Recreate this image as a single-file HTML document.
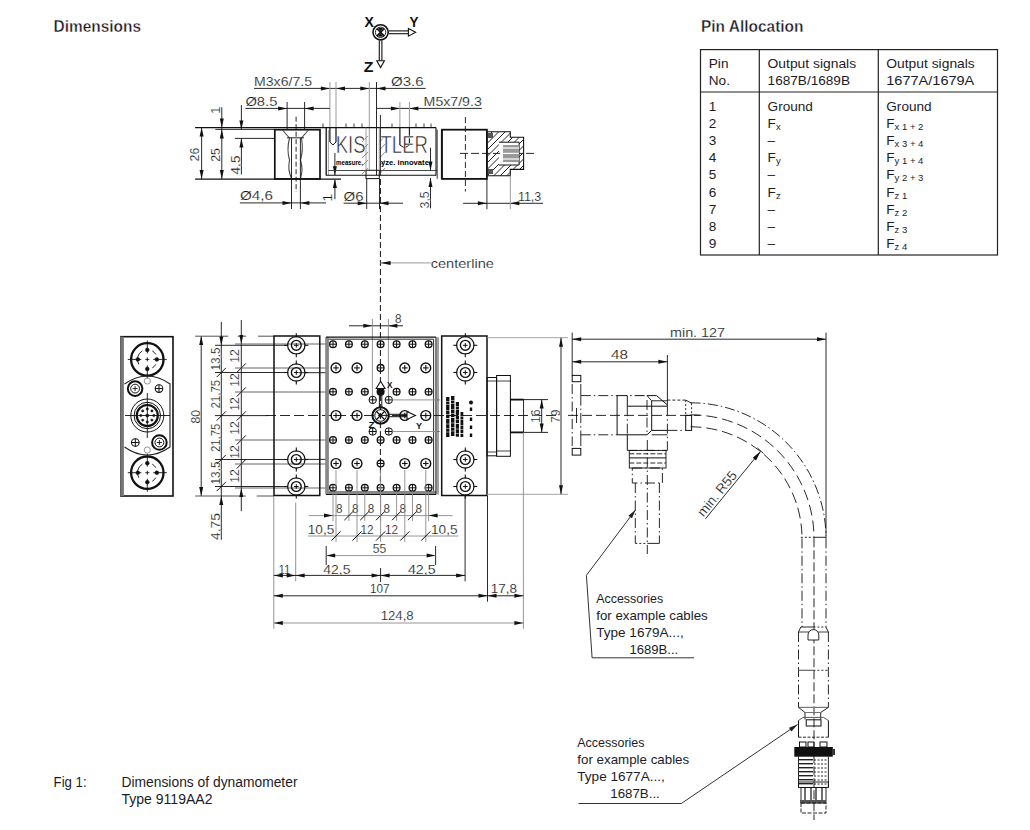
<!DOCTYPE html>
<html><head><meta charset="utf-8"><style>
html,body{margin:0;padding:0;background:#fff;width:1030px;height:830px;overflow:hidden}
svg{display:block}
</style></head><body>
<svg width="1030" height="830" viewBox="0 0 1030 830">
<rect width="1030" height="830" fill="#fff"/>
<text x="53.50" y="31.70" font-family='"Liberation Sans", sans-serif' font-size="16.30" fill="#1c1c28" font-weight="bold" text-anchor="start" textLength="87.50" lengthAdjust="spacingAndGlyphs" stroke="#fff" stroke-width="0.35">Dimensions</text>
<text x="701.00" y="31.70" font-family='"Liberation Sans", sans-serif' font-size="16.30" fill="#1c1c28" font-weight="bold" text-anchor="start" textLength="102.50" lengthAdjust="spacingAndGlyphs" stroke="#fff" stroke-width="0.35">Pin Allocation</text>
<rect x="700.50" y="49.60" width="297.00" height="205.40" fill="none" stroke="#222" stroke-width="1.2"/>
<line x1="759.30" y1="49.60" x2="759.30" y2="255.00" stroke="#222" stroke-width="1.2"/>
<line x1="878.30" y1="49.60" x2="878.30" y2="255.00" stroke="#222" stroke-width="1.2"/>
<line x1="700.50" y1="92.00" x2="997.50" y2="92.00" stroke="#222" stroke-width="1.2"/>
<text x="708.80" y="67.80" font-family='"Liberation Sans", sans-serif' font-size="13.60" fill="#1c1c28" font-weight="normal" text-anchor="start">Pin</text>
<text x="708.80" y="84.90" font-family='"Liberation Sans", sans-serif' font-size="13.60" fill="#1c1c28" font-weight="normal" text-anchor="start">No.</text>
<text x="767.60" y="67.80" font-family='"Liberation Sans", sans-serif' font-size="13.60" fill="#1c1c28" font-weight="normal" text-anchor="start" textLength="88.50" lengthAdjust="spacingAndGlyphs">Output signals</text>
<text x="767.60" y="84.90" font-family='"Liberation Sans", sans-serif' font-size="13.60" fill="#1c1c28" font-weight="normal" text-anchor="start" textLength="82.40" lengthAdjust="spacingAndGlyphs">1687B/1689B</text>
<text x="886.30" y="67.80" font-family='"Liberation Sans", sans-serif' font-size="13.60" fill="#1c1c28" font-weight="normal" text-anchor="start" textLength="88.50" lengthAdjust="spacingAndGlyphs">Output signals</text>
<text x="886.30" y="84.90" font-family='"Liberation Sans", sans-serif' font-size="13.60" fill="#1c1c28" font-weight="normal" text-anchor="start" textLength="88.00" lengthAdjust="spacingAndGlyphs">1677A/1679A</text>
<text x="708.80" y="110.70" font-family='"Liberation Sans", sans-serif' font-size="13.60" fill="#1c1c28" font-weight="normal" text-anchor="start">1</text>
<text x="767.60" y="110.70" font-family='"Liberation Sans", sans-serif' font-size="13.60" fill="#1c1c28" font-weight="normal" text-anchor="start">Ground</text>
<text x="886.30" y="110.70" font-family='"Liberation Sans", sans-serif' font-size="13.60" fill="#1c1c28" font-weight="normal" text-anchor="start">Ground</text>
<text x="708.80" y="127.87" font-family='"Liberation Sans", sans-serif' font-size="13.60" fill="#1c1c28" font-weight="normal" text-anchor="start">2</text>
<text x="767.60" y="127.87" font-family='"Liberation Sans", sans-serif' font-size="13.60" fill="#1c1c28" font-weight="normal" text-anchor="start">F<tspan font-size="9.5" dy="2">x</tspan></text>
<text x="886.30" y="127.87" font-family='"Liberation Sans", sans-serif' font-size="13.60" fill="#1c1c28" font-weight="normal" text-anchor="start">F<tspan font-size="9.5" dy="2">x 1 + 2</tspan></text>
<text x="708.80" y="145.04" font-family='"Liberation Sans", sans-serif' font-size="13.60" fill="#1c1c28" font-weight="normal" text-anchor="start">3</text>
<text x="767.60" y="145.04" font-family='"Liberation Sans", sans-serif' font-size="13.60" fill="#1c1c28" font-weight="normal" text-anchor="start">–</text>
<text x="886.30" y="145.04" font-family='"Liberation Sans", sans-serif' font-size="13.60" fill="#1c1c28" font-weight="normal" text-anchor="start">F<tspan font-size="9.5" dy="2">x 3 + 4</tspan></text>
<text x="708.80" y="162.21" font-family='"Liberation Sans", sans-serif' font-size="13.60" fill="#1c1c28" font-weight="normal" text-anchor="start">4</text>
<text x="767.60" y="162.21" font-family='"Liberation Sans", sans-serif' font-size="13.60" fill="#1c1c28" font-weight="normal" text-anchor="start">F<tspan font-size="9.5" dy="2">y</tspan></text>
<text x="886.30" y="162.21" font-family='"Liberation Sans", sans-serif' font-size="13.60" fill="#1c1c28" font-weight="normal" text-anchor="start">F<tspan font-size="9.5" dy="2">y 1 + 4</tspan></text>
<text x="708.80" y="179.38" font-family='"Liberation Sans", sans-serif' font-size="13.60" fill="#1c1c28" font-weight="normal" text-anchor="start">5</text>
<text x="767.60" y="179.38" font-family='"Liberation Sans", sans-serif' font-size="13.60" fill="#1c1c28" font-weight="normal" text-anchor="start">–</text>
<text x="886.30" y="179.38" font-family='"Liberation Sans", sans-serif' font-size="13.60" fill="#1c1c28" font-weight="normal" text-anchor="start">F<tspan font-size="9.5" dy="2">y 2 + 3</tspan></text>
<text x="708.80" y="196.55" font-family='"Liberation Sans", sans-serif' font-size="13.60" fill="#1c1c28" font-weight="normal" text-anchor="start">6</text>
<text x="767.60" y="196.55" font-family='"Liberation Sans", sans-serif' font-size="13.60" fill="#1c1c28" font-weight="normal" text-anchor="start">F<tspan font-size="9.5" dy="2">z</tspan></text>
<text x="886.30" y="196.55" font-family='"Liberation Sans", sans-serif' font-size="13.60" fill="#1c1c28" font-weight="normal" text-anchor="start">F<tspan font-size="9.5" dy="2">z 1</tspan></text>
<text x="708.80" y="213.72" font-family='"Liberation Sans", sans-serif' font-size="13.60" fill="#1c1c28" font-weight="normal" text-anchor="start">7</text>
<text x="767.60" y="213.72" font-family='"Liberation Sans", sans-serif' font-size="13.60" fill="#1c1c28" font-weight="normal" text-anchor="start">–</text>
<text x="886.30" y="213.72" font-family='"Liberation Sans", sans-serif' font-size="13.60" fill="#1c1c28" font-weight="normal" text-anchor="start">F<tspan font-size="9.5" dy="2">z 2</tspan></text>
<text x="708.80" y="230.89" font-family='"Liberation Sans", sans-serif' font-size="13.60" fill="#1c1c28" font-weight="normal" text-anchor="start">8</text>
<text x="767.60" y="230.89" font-family='"Liberation Sans", sans-serif' font-size="13.60" fill="#1c1c28" font-weight="normal" text-anchor="start">–</text>
<text x="886.30" y="230.89" font-family='"Liberation Sans", sans-serif' font-size="13.60" fill="#1c1c28" font-weight="normal" text-anchor="start">F<tspan font-size="9.5" dy="2">z 3</tspan></text>
<text x="708.80" y="248.06" font-family='"Liberation Sans", sans-serif' font-size="13.60" fill="#1c1c28" font-weight="normal" text-anchor="start">9</text>
<text x="767.60" y="248.06" font-family='"Liberation Sans", sans-serif' font-size="13.60" fill="#1c1c28" font-weight="normal" text-anchor="start">–</text>
<text x="886.30" y="248.06" font-family='"Liberation Sans", sans-serif' font-size="13.60" fill="#1c1c28" font-weight="normal" text-anchor="start">F<tspan font-size="9.5" dy="2">z 4</tspan></text>
<text x="53.60" y="787.20" font-family='"Liberation Sans", sans-serif' font-size="13.80" fill="#1c1c28" font-weight="normal" text-anchor="start" textLength="33.00" lengthAdjust="spacingAndGlyphs">Fig 1:</text>
<text x="121.50" y="787.20" font-family='"Liberation Sans", sans-serif' font-size="13.80" fill="#1c1c28" font-weight="normal" text-anchor="start" textLength="176.00" lengthAdjust="spacingAndGlyphs">Dimensions of dynamometer</text>
<text x="121.50" y="804.00" font-family='"Liberation Sans", sans-serif' font-size="13.80" fill="#1c1c28" font-weight="normal" text-anchor="start" textLength="91.00" lengthAdjust="spacingAndGlyphs">Type 9119AA2</text>
<text x="596.20" y="602.50" font-family='"Liberation Sans", sans-serif' font-size="12.60" fill="#1c1c28" font-weight="normal" text-anchor="start" textLength="67.00" lengthAdjust="spacingAndGlyphs">Accessories</text>
<text x="596.20" y="619.50" font-family='"Liberation Sans", sans-serif' font-size="12.60" fill="#1c1c28" font-weight="normal" text-anchor="start" textLength="111.50" lengthAdjust="spacingAndGlyphs">for example cables</text>
<text x="596.20" y="636.50" font-family='"Liberation Sans", sans-serif' font-size="12.60" fill="#1c1c28" font-weight="normal" text-anchor="start" textLength="87.50" lengthAdjust="spacingAndGlyphs">Type 1679A...,</text>
<text x="629.40" y="653.50" font-family='"Liberation Sans", sans-serif' font-size="12.60" fill="#1c1c28" font-weight="normal" text-anchor="start" textLength="48.80" lengthAdjust="spacingAndGlyphs">1689B...</text>
<polyline points="694.00,657.80 592.10,657.80 586.40,575.40 635.60,509.80" fill="none" stroke="#333" stroke-width="1"/>
<polygon points="635.60,509.80 631.96,518.32 628.44,515.68" fill="#222"/>
<text x="577.30" y="746.50" font-family='"Liberation Sans", sans-serif' font-size="12.60" fill="#1c1c28" font-weight="normal" text-anchor="start" textLength="67.20" lengthAdjust="spacingAndGlyphs">Accessories</text>
<text x="577.30" y="763.70" font-family='"Liberation Sans", sans-serif' font-size="12.60" fill="#1c1c28" font-weight="normal" text-anchor="start" textLength="111.90" lengthAdjust="spacingAndGlyphs">for example cables</text>
<text x="577.30" y="780.90" font-family='"Liberation Sans", sans-serif' font-size="12.60" fill="#1c1c28" font-weight="normal" text-anchor="start" textLength="87.50" lengthAdjust="spacingAndGlyphs">Type 1677A...,</text>
<text x="610.30" y="797.70" font-family='"Liberation Sans", sans-serif' font-size="12.60" fill="#1c1c28" font-weight="normal" text-anchor="start" textLength="49.50" lengthAdjust="spacingAndGlyphs">1687B...</text>
<polyline points="578.50,803.50 681.30,803.50 797.60,724.50" fill="none" stroke="#333" stroke-width="1"/>
<polygon points="797.60,724.50 791.39,731.38 788.92,727.74" fill="#222"/>
<circle cx="380.60" cy="32.30" r="7.60" fill="none" stroke="#111" stroke-width="1.6"/>
<circle cx="380.60" cy="32.30" r="5.20" fill="none" stroke="#111" stroke-width="0.9"/>
<line x1="376.80" y1="28.50" x2="384.40" y2="36.10" stroke="#111" stroke-width="1.6"/>
<line x1="376.80" y1="36.10" x2="384.40" y2="28.50" stroke="#111" stroke-width="1.6"/>
<polygon points="378.10,28.10 383.10,28.10 380.60,31.30" fill="#111" stroke="#111" stroke-width="0.3"/>
<polygon points="378.10,36.50 383.10,36.50 380.60,33.30" fill="#111" stroke="#111" stroke-width="0.3"/>
<polyline points="389.00,30.90 408.40,30.90" fill="none" stroke="#111" stroke-width="1.1"/>
<polyline points="389.00,33.70 408.40,33.70" fill="none" stroke="#111" stroke-width="1.1"/>
<polygon points="408.40,28.40 415.70,32.30 408.40,36.20" fill="#fff" stroke="#111" stroke-width="1.1"/>
<line x1="379.30" y1="40.20" x2="379.30" y2="60.70" stroke="#111" stroke-width="1.1"/>
<line x1="381.90" y1="40.20" x2="381.90" y2="60.70" stroke="#111" stroke-width="1.1"/>
<polygon points="376.80,60.70 384.40,60.70 380.60,67.60" fill="#fff" stroke="#111" stroke-width="1.1"/>
<text x="364.60" y="26.80" font-family='"Liberation Sans", sans-serif' font-size="14.50" fill="#111" font-weight="bold" text-anchor="start" textLength="9.40" lengthAdjust="spacingAndGlyphs">X</text>
<text x="409.40" y="26.80" font-family='"Liberation Sans", sans-serif' font-size="14.50" fill="#111" font-weight="bold" text-anchor="start" textLength="9.00" lengthAdjust="spacingAndGlyphs">Y</text>
<text x="363.80" y="72.30" font-family='"Liberation Sans", sans-serif' font-size="14.50" fill="#111" font-weight="bold" text-anchor="start" textLength="9.70" lengthAdjust="spacingAndGlyphs">Z</text>
<line x1="254.00" y1="88.40" x2="425.70" y2="88.40" stroke="#111" stroke-width="0.9"/>
<polygon points="329.90,88.40 320.90,86.40 320.90,90.40" fill="#111"/>
<polygon points="336.00,88.40 345.00,86.40 345.00,90.40" fill="#111"/>
<polygon points="369.30,88.40 360.30,86.40 360.30,90.40" fill="#111"/>
<polygon points="376.50,88.40 385.50,86.40 385.50,90.40" fill="#111"/>
<line x1="329.90" y1="82.00" x2="329.90" y2="142.00" stroke="#9a9a9a" stroke-width="1"/>
<line x1="336.00" y1="82.00" x2="336.00" y2="142.00" stroke="#9a9a9a" stroke-width="1"/>
<line x1="369.30" y1="82.00" x2="369.30" y2="170.00" stroke="#9a9a9a" stroke-width="1"/>
<line x1="376.50" y1="82.00" x2="376.50" y2="175.00" stroke="#111" stroke-width="0.9"/>
<text x="254.00" y="86.20" font-family='"Liberation Sans", sans-serif' font-size="13.61" fill="#111" font-weight="normal" text-anchor="start" textLength="58.00" lengthAdjust="spacingAndGlyphs" stroke="#fff" stroke-width="0.2">M3x6/7.5</text>
<text x="391.00" y="86.20" font-family='"Liberation Sans", sans-serif' font-size="13.61" fill="#111" font-weight="normal" text-anchor="start" textLength="32.60" lengthAdjust="spacingAndGlyphs" stroke="#fff" stroke-width="0.2">Ø3.6</text>
<line x1="245.30" y1="108.40" x2="329.90" y2="108.40" stroke="#111" stroke-width="0.9"/>
<polygon points="287.10,108.40 278.10,106.40 278.10,110.40" fill="#111"/>
<polygon points="304.60,108.40 313.60,106.40 313.60,110.40" fill="#111"/>
<line x1="287.10" y1="102.00" x2="287.10" y2="129.00" stroke="#111" stroke-width="0.9"/>
<line x1="304.60" y1="102.00" x2="304.60" y2="129.00" stroke="#111" stroke-width="0.9"/>
<text x="245.40" y="105.90" font-family='"Liberation Sans", sans-serif' font-size="13.61" fill="#111" font-weight="normal" text-anchor="start" textLength="32.00" lengthAdjust="spacingAndGlyphs" stroke="#fff" stroke-width="0.2">Ø8.5</text>
<line x1="376.50" y1="108.40" x2="481.80" y2="108.40" stroke="#111" stroke-width="0.9"/>
<polygon points="399.90,108.40 390.90,106.40 390.90,110.40" fill="#111"/>
<polygon points="409.40,108.40 418.40,106.40 418.40,110.40" fill="#111"/>
<line x1="399.90" y1="102.00" x2="399.90" y2="145.00" stroke="#9a9a9a" stroke-width="1"/>
<line x1="409.40" y1="102.00" x2="409.40" y2="145.00" stroke="#9a9a9a" stroke-width="1"/>
<text x="423.60" y="105.90" font-family='"Liberation Sans", sans-serif' font-size="13.61" fill="#111" font-weight="normal" text-anchor="start" textLength="58.20" lengthAdjust="spacingAndGlyphs" stroke="#fff" stroke-width="0.2">M5x7/9.3</text>
<line x1="195.10" y1="127.60" x2="436.00" y2="127.60" stroke="#111" stroke-width="1.1"/>
<line x1="215.30" y1="129.40" x2="275.00" y2="129.40" stroke="#111" stroke-width="0.9"/>
<line x1="234.90" y1="138.40" x2="275.00" y2="138.40" stroke="#111" stroke-width="0.9"/>
<line x1="195.10" y1="179.10" x2="341.00" y2="179.10" stroke="#111" stroke-width="1.1"/>
<line x1="201.60" y1="127.60" x2="201.60" y2="179.10" stroke="#111" stroke-width="0.9"/>
<polygon points="201.60,127.60 199.60,136.60 203.60,136.60" fill="#111"/>
<polygon points="201.60,179.10 199.60,170.10 203.60,170.10" fill="#111"/>
<line x1="221.80" y1="107.30" x2="221.80" y2="179.10" stroke="#111" stroke-width="0.9"/>
<polygon points="221.80,127.60 219.80,118.60 223.80,118.60" fill="#111"/>
<polygon points="221.80,129.40 219.80,138.40 223.80,138.40" fill="#111"/>
<polygon points="221.80,179.10 219.80,170.10 223.80,170.10" fill="#111"/>
<line x1="241.40" y1="105.00" x2="241.40" y2="129.40" stroke="#111" stroke-width="0.9"/>
<polygon points="241.40,129.40 239.40,120.40 243.40,120.40" fill="#111"/>
<line x1="241.40" y1="138.40" x2="241.40" y2="174.50" stroke="#111" stroke-width="0.9"/>
<polygon points="241.40,138.40 239.40,147.40 243.40,147.40" fill="#111"/>
<text transform="translate(220.40,114.00) rotate(-90)" x="0" y="0" font-family='"Liberation Sans", sans-serif' font-size="13.61" fill="#111" font-weight="normal" text-anchor="start" stroke="#fff" stroke-width="0.2">1</text>
<text transform="translate(199.30,161.50) rotate(-90)" x="0" y="0" font-family='"Liberation Sans", sans-serif' font-size="13.61" fill="#111" font-weight="normal" text-anchor="start" textLength="13.80" lengthAdjust="spacingAndGlyphs" stroke="#fff" stroke-width="0.2">26</text>
<text transform="translate(219.50,161.80) rotate(-90)" x="0" y="0" font-family='"Liberation Sans", sans-serif' font-size="13.61" fill="#111" font-weight="normal" text-anchor="start" textLength="13.80" lengthAdjust="spacingAndGlyphs" stroke="#fff" stroke-width="0.2">25</text>
<text transform="translate(239.50,174.50) rotate(-90)" x="0" y="0" font-family='"Liberation Sans", sans-serif' font-size="13.61" fill="#111" font-weight="normal" text-anchor="start" textLength="19.00" lengthAdjust="spacingAndGlyphs" stroke="#fff" stroke-width="0.2">4,5</text>
<rect x="274.80" y="129.70" width="45.20" height="49.20" fill="none" stroke="#111" stroke-width="1.7"/>
<polyline points="282.40,130.00 289.50,138.00" fill="none" stroke="#444" stroke-width="1.1"/>
<polyline points="308.40,130.00 301.50,138.00" fill="none" stroke="#444" stroke-width="1.1"/>
<line x1="287.00" y1="137.80" x2="304.00" y2="137.80" stroke="#111" stroke-width="0.9"/>
<path d="M289.5,138 Q286.5,150 289.5,160 Q287.5,170 291.5,178.5" fill="none" stroke="#444" stroke-width="1.1"/>
<path d="M301.5,138 Q303.5,150 300.5,160 Q303.5,170 300.4,178.5" fill="none" stroke="#444" stroke-width="1.1"/>
<line x1="296.10" y1="116.70" x2="296.10" y2="192.00" stroke="#111" stroke-width="0.9" stroke-dasharray="5,2.5"/>
<line x1="291.50" y1="138.00" x2="291.50" y2="209.00" stroke="#111" stroke-width="0.9"/>
<line x1="300.40" y1="138.00" x2="300.40" y2="209.00" stroke="#111" stroke-width="0.9"/>
<line x1="239.90" y1="202.90" x2="326.00" y2="202.90" stroke="#111" stroke-width="0.9"/>
<polygon points="291.50,202.90 282.50,200.90 282.50,204.90" fill="#111"/>
<polygon points="300.40,202.90 309.40,200.90 309.40,204.90" fill="#111"/>
<text x="239.90" y="200.00" font-family='"Liberation Sans", sans-serif' font-size="13.61" fill="#111" font-weight="normal" text-anchor="start" textLength="33.00" lengthAdjust="spacingAndGlyphs" stroke="#fff" stroke-width="0.2">Ø4,6</text>
<line x1="334.90" y1="152.90" x2="334.90" y2="175.30" stroke="#111" stroke-width="0.9"/>
<polygon points="334.90,175.30 332.90,166.30 336.90,166.30" fill="#111"/>
<line x1="334.90" y1="180.00" x2="334.90" y2="199.20" stroke="#111" stroke-width="0.9"/>
<polygon points="334.90,179.10 332.90,188.10 336.90,188.10" fill="#111"/>
<text transform="translate(332.30,201.60) rotate(-90)" x="0" y="0" font-family='"Liberation Sans", sans-serif' font-size="13.61" fill="#111" font-weight="normal" text-anchor="start" stroke="#fff" stroke-width="0.2">1</text>
<line x1="326.20" y1="127.60" x2="326.20" y2="175.40" stroke="#111" stroke-width="1.3"/>
<line x1="328.40" y1="130.00" x2="328.40" y2="175.40" stroke="#8a8a8a" stroke-width="0.8"/>
<line x1="436.00" y1="127.60" x2="436.00" y2="175.40" stroke="#111" stroke-width="1.1"/>
<line x1="326.20" y1="175.30" x2="436.00" y2="175.30" stroke="#111" stroke-width="1.1"/>
<line x1="328.40" y1="170.50" x2="366.00" y2="170.50" stroke="#333" stroke-width="0.9"/>
<line x1="379.30" y1="170.50" x2="437.00" y2="170.50" stroke="#333" stroke-width="0.9"/>
<rect x="366.00" y="170.30" width="13.30" height="8.30" fill="none" stroke="#111" stroke-width="1"/>
<line x1="366.00" y1="127.60" x2="366.00" y2="170.30" stroke="#8a8a8a" stroke-width="0.8"/>
<line x1="379.30" y1="127.60" x2="379.30" y2="170.30" stroke="#8a8a8a" stroke-width="0.8"/>
<line x1="362.00" y1="142.00" x2="368.00" y2="136.00" stroke="#666" stroke-width="0.7"/>
<line x1="379.50" y1="142.00" x2="385.00" y2="136.00" stroke="#666" stroke-width="0.7"/>
<line x1="362.00" y1="150.00" x2="368.00" y2="144.00" stroke="#666" stroke-width="0.7"/>
<line x1="379.50" y1="150.00" x2="385.00" y2="144.00" stroke="#666" stroke-width="0.7"/>
<line x1="362.00" y1="158.00" x2="368.00" y2="152.00" stroke="#666" stroke-width="0.7"/>
<line x1="379.50" y1="158.00" x2="385.00" y2="152.00" stroke="#666" stroke-width="0.7"/>
<line x1="362.00" y1="166.00" x2="368.00" y2="160.00" stroke="#666" stroke-width="0.7"/>
<line x1="379.50" y1="166.00" x2="385.00" y2="160.00" stroke="#666" stroke-width="0.7"/>
<line x1="362.00" y1="174.00" x2="368.00" y2="168.00" stroke="#666" stroke-width="0.7"/>
<line x1="379.50" y1="174.00" x2="385.00" y2="168.00" stroke="#666" stroke-width="0.7"/>
<line x1="329.90" y1="127.60" x2="329.90" y2="142.00" stroke="#111" stroke-width="1"/>
<line x1="336.00" y1="127.60" x2="336.00" y2="142.00" stroke="#111" stroke-width="1"/>
<polyline points="329.90,142.00 332.95,145.00 336.00,142.00" fill="none" stroke="#111" stroke-width="1"/>
<line x1="399.90" y1="127.60" x2="399.90" y2="145.00" stroke="#111" stroke-width="1"/>
<line x1="409.40" y1="127.60" x2="409.40" y2="145.00" stroke="#111" stroke-width="1"/>
<polyline points="399.90,145.00 404.65,148.00 409.40,145.00" fill="none" stroke="#111" stroke-width="1"/>
<line x1="323.00" y1="123.50" x2="323.00" y2="128.00" stroke="#111" stroke-width="0.8"/>
<line x1="346.00" y1="123.50" x2="346.00" y2="128.00" stroke="#111" stroke-width="0.8"/>
<line x1="354.00" y1="123.50" x2="354.00" y2="128.00" stroke="#111" stroke-width="0.8"/>
<line x1="362.00" y1="123.50" x2="362.00" y2="128.00" stroke="#111" stroke-width="0.8"/>
<line x1="392.00" y1="123.50" x2="392.00" y2="128.00" stroke="#111" stroke-width="0.8"/>
<line x1="416.00" y1="123.50" x2="416.00" y2="128.00" stroke="#111" stroke-width="0.8"/>
<line x1="424.00" y1="123.50" x2="424.00" y2="128.00" stroke="#111" stroke-width="0.8"/>
<line x1="431.00" y1="123.50" x2="431.00" y2="128.00" stroke="#111" stroke-width="0.8"/>
<text x="335.70" y="153.20" font-family='"Liberation Sans", sans-serif' font-size="24.00" fill="#222" font-weight="normal" text-anchor="start" textLength="30.00" lengthAdjust="spacingAndGlyphs" stroke="#fff" stroke-width="0.6">KIS</text>
<text x="380.50" y="153.20" font-family='"Liberation Sans", sans-serif' font-size="24.00" fill="#222" font-weight="normal" text-anchor="start" textLength="47.50" lengthAdjust="spacingAndGlyphs" stroke="#fff" stroke-width="0.6">TLER</text>
<text x="336.00" y="164.60" font-family='"Liberation Sans", sans-serif' font-size="7.00" fill="#000" font-weight="bold" text-anchor="start" textLength="27.00" lengthAdjust="spacingAndGlyphs">measure.</text>
<text x="381.00" y="164.60" font-family='"Liberation Sans", sans-serif' font-size="7.00" fill="#000" font-weight="bold" text-anchor="start" textLength="50.00" lengthAdjust="spacingAndGlyphs">yze. innovate.</text>
<line x1="380.40" y1="115.00" x2="380.40" y2="175.00" stroke="#111" stroke-width="0.9"/>
<line x1="430.50" y1="147.70" x2="430.50" y2="170.50" stroke="#111" stroke-width="0.9"/>
<polygon points="430.50,170.50 428.50,161.50 432.50,161.50" fill="#111"/>
<line x1="430.50" y1="178.00" x2="430.50" y2="208.40" stroke="#111" stroke-width="0.9"/>
<polygon points="430.50,178.00 428.50,187.00 432.50,187.00" fill="#111"/>
<text transform="translate(428.80,208.40) rotate(-90)" x="0" y="0" font-family='"Liberation Sans", sans-serif' font-size="13.61" fill="#111" font-weight="normal" text-anchor="start" textLength="17.00" lengthAdjust="spacingAndGlyphs" stroke="#fff" stroke-width="0.2">3,5</text>
<line x1="366.70" y1="179.00" x2="366.70" y2="209.00" stroke="#111" stroke-width="0.9"/>
<line x1="379.50" y1="179.00" x2="379.50" y2="209.00" stroke="#111" stroke-width="0.9"/>
<line x1="343.60" y1="203.20" x2="403.00" y2="203.20" stroke="#111" stroke-width="0.9"/>
<polygon points="366.70,203.20 357.70,201.20 357.70,205.20" fill="#111"/>
<polygon points="379.50,203.20 388.50,201.20 388.50,205.20" fill="#111"/>
<text x="343.60" y="200.80" font-family='"Liberation Sans", sans-serif' font-size="13.61" fill="#111" font-weight="normal" text-anchor="start" textLength="20.00" lengthAdjust="spacingAndGlyphs" stroke="#fff" stroke-width="0.2">Ø6</text>
<line x1="437.20" y1="129.70" x2="437.20" y2="178.90" stroke="#111" stroke-width="0.8"/>
<line x1="441.40" y1="129.70" x2="441.40" y2="178.90" stroke="#111" stroke-width="0.8"/>
<rect x="442.00" y="129.70" width="44.90" height="49.20" fill="none" stroke="#111" stroke-width="1.8"/>
<line x1="465.40" y1="117.00" x2="465.40" y2="191.50" stroke="#111" stroke-width="0.9" stroke-dasharray="6,3"/>
<line x1="460.00" y1="153.40" x2="536.00" y2="153.40" stroke="#111" stroke-width="0.9" stroke-dasharray="8,3"/>
<polygon points="487.00,131.70 510.30,131.70 510.30,137.20 523.60,137.20 523.60,169.40 510.30,169.40 510.30,175.70 487.00,175.70" fill="none" stroke="#111" stroke-width="1.1"/>
<polyline points="498.90,142.20 519.10,142.20 519.10,165.00 498.90,165.00" fill="none" stroke="#111" stroke-width="1"/>
<clipPath id="hc"><path d="M487,131.7 H510.3 V137.2 H523.6 V169.4 H510.3 V175.7 H487 Z M498.9,142.2 V165 H519.1 V142.2 Z" clip-rule="evenodd"/></clipPath>
<g clip-path="url(#hc)"><line x1="405.0" y1="180" x2="455.0" y2="130" stroke="#222" stroke-width="1.0"/><line x1="411.5" y1="180" x2="461.5" y2="130" stroke="#222" stroke-width="1.0"/><line x1="418.0" y1="180" x2="468.0" y2="130" stroke="#222" stroke-width="1.0"/><line x1="424.5" y1="180" x2="474.5" y2="130" stroke="#222" stroke-width="1.0"/><line x1="431.0" y1="180" x2="481.0" y2="130" stroke="#222" stroke-width="1.0"/><line x1="437.5" y1="180" x2="487.5" y2="130" stroke="#222" stroke-width="1.0"/><line x1="444.0" y1="180" x2="494.0" y2="130" stroke="#222" stroke-width="1.0"/><line x1="450.5" y1="180" x2="500.5" y2="130" stroke="#222" stroke-width="1.0"/><line x1="457.0" y1="180" x2="507.0" y2="130" stroke="#222" stroke-width="1.0"/><line x1="463.5" y1="180" x2="513.5" y2="130" stroke="#222" stroke-width="1.0"/><line x1="470.0" y1="180" x2="520.0" y2="130" stroke="#222" stroke-width="1.0"/><line x1="476.5" y1="180" x2="526.5" y2="130" stroke="#222" stroke-width="1.0"/><line x1="483.0" y1="180" x2="533.0" y2="130" stroke="#222" stroke-width="1.0"/><line x1="489.5" y1="180" x2="539.5" y2="130" stroke="#222" stroke-width="1.0"/><line x1="496.0" y1="180" x2="546.0" y2="130" stroke="#222" stroke-width="1.0"/><line x1="502.5" y1="180" x2="552.5" y2="130" stroke="#222" stroke-width="1.0"/><line x1="509.0" y1="180" x2="559.0" y2="130" stroke="#222" stroke-width="1.0"/><line x1="515.5" y1="180" x2="565.5" y2="130" stroke="#222" stroke-width="1.0"/><line x1="522.0" y1="180" x2="572.0" y2="130" stroke="#222" stroke-width="1.0"/><line x1="528.5" y1="180" x2="578.5" y2="130" stroke="#222" stroke-width="1.0"/><line x1="535.0" y1="180" x2="585.0" y2="130" stroke="#222" stroke-width="1.0"/><line x1="541.5" y1="180" x2="591.5" y2="130" stroke="#222" stroke-width="1.0"/></g>
<rect x="503.00" y="145.00" width="16.00" height="17.00" fill="#999"/>
<line x1="500.00" y1="148.00" x2="519.00" y2="148.00" stroke="#fff" stroke-width="1.2"/>
<line x1="500.00" y1="153.40" x2="519.00" y2="153.40" stroke="#fff" stroke-width="1.2"/>
<line x1="500.00" y1="159.00" x2="519.00" y2="159.00" stroke="#fff" stroke-width="1.2"/>
<rect x="488.00" y="133.00" width="5.00" height="5.00" fill="#555"/>
<rect x="488.00" y="169.00" width="5.00" height="5.00" fill="#555"/>
<line x1="463.10" y1="203.30" x2="543.10" y2="203.30" stroke="#111" stroke-width="0.9"/>
<polygon points="486.90,203.30 477.90,201.30 477.90,205.30" fill="#111"/>
<polygon points="510.30,203.30 519.30,201.30 519.30,205.30" fill="#111"/>
<line x1="486.90" y1="179.00" x2="486.90" y2="209.20" stroke="#111" stroke-width="0.9"/>
<line x1="510.30" y1="175.70" x2="510.30" y2="209.20" stroke="#9a9a9a" stroke-width="1"/>
<text x="517.90" y="200.80" font-family='"Liberation Sans", sans-serif' font-size="13.61" fill="#111" font-weight="normal" text-anchor="start" textLength="23.40" lengthAdjust="spacingAndGlyphs" stroke="#fff" stroke-width="0.2">11,3</text>
<line x1="380.40" y1="179.00" x2="380.40" y2="497.00" stroke="#111" stroke-width="1" stroke-dasharray="6,3"/>
<line x1="380.40" y1="262.90" x2="430.70" y2="262.90" stroke="#9a9a9a" stroke-width="1"/>
<polygon points="380.60,262.90 390.60,260.90 390.60,264.90" fill="#111"/>
<text x="430.70" y="268.00" font-family='"Liberation Sans", sans-serif' font-size="13.61" fill="#111" font-weight="normal" text-anchor="start" textLength="63.20" lengthAdjust="spacingAndGlyphs" stroke="#fff" stroke-width="0.2">centerline</text>
<line x1="349.00" y1="325.80" x2="403.00" y2="325.80" stroke="#111" stroke-width="0.9"/>
<polygon points="372.40,325.80 363.40,323.80 363.40,327.80" fill="#111"/>
<polygon points="388.40,325.80 397.40,323.80 397.40,327.80" fill="#111"/>
<line x1="372.40" y1="319.00" x2="372.40" y2="400.00" stroke="#8a8a8a" stroke-width="0.9"/>
<line x1="388.40" y1="319.00" x2="388.40" y2="400.00" stroke="#8a8a8a" stroke-width="0.9"/>
<text x="395.00" y="323.20" font-family='"Liberation Sans", sans-serif' font-size="13.61" fill="#111" font-weight="normal" text-anchor="start" textLength="6.50" lengthAdjust="spacingAndGlyphs" stroke="#fff" stroke-width="0.2">8</text>
<rect x="121.00" y="336.70" width="52.00" height="159.30" fill="none" stroke="#111" stroke-width="1.6"/>
<rect x="120.40" y="336.70" width="3.50" height="159.30" fill="#777"/>
<circle cx="147.30" cy="359.40" r="16.20" fill="none" stroke="#111" stroke-width="2.3"/>
<path d="M138.8,364.4 A9.8,9.8 0 0 1 142.3,350.9 M152.3,350.9 A9.8,9.8 0 0 1 155.8,354.4 M155.8,364.4 A9.8,9.8 0 0 1 152.3,367.9" fill="none" stroke="#222" stroke-width="1"/>
<circle cx="147.30" cy="349.90" r="1.90" fill="#111" stroke="#111" stroke-width="0.5"/>
<circle cx="147.30" cy="368.90" r="1.90" fill="#111" stroke="#111" stroke-width="0.5"/>
<circle cx="137.80" cy="359.40" r="1.90" fill="#111" stroke="#111" stroke-width="0.5"/>
<circle cx="156.80" cy="359.40" r="1.90" fill="#111" stroke="#111" stroke-width="0.5"/>
<line x1="127.80" y1="359.40" x2="141.30" y2="359.40" stroke="#111" stroke-width="0.9"/>
<line x1="153.30" y1="359.40" x2="166.80" y2="359.40" stroke="#111" stroke-width="0.9"/>
<line x1="147.30" y1="340.40" x2="147.30" y2="353.40" stroke="#111" stroke-width="0.9"/>
<line x1="147.30" y1="365.40" x2="147.30" y2="378.40" stroke="#111" stroke-width="0.9"/>
<line x1="145.30" y1="359.40" x2="149.30" y2="359.40" stroke="#111" stroke-width="0.9"/>
<line x1="147.30" y1="357.40" x2="147.30" y2="361.40" stroke="#111" stroke-width="0.9"/>
<circle cx="147.30" cy="472.70" r="16.20" fill="none" stroke="#111" stroke-width="2.3"/>
<path d="M138.8,477.7 A9.8,9.8 0 0 1 142.3,464.2 M152.3,464.2 A9.8,9.8 0 0 1 155.8,467.7 M155.8,477.7 A9.8,9.8 0 0 1 152.3,481.2" fill="none" stroke="#222" stroke-width="1"/>
<circle cx="147.30" cy="463.20" r="1.90" fill="#111" stroke="#111" stroke-width="0.5"/>
<circle cx="147.30" cy="482.20" r="1.90" fill="#111" stroke="#111" stroke-width="0.5"/>
<circle cx="137.80" cy="472.70" r="1.90" fill="#111" stroke="#111" stroke-width="0.5"/>
<circle cx="156.80" cy="472.70" r="1.90" fill="#111" stroke="#111" stroke-width="0.5"/>
<line x1="127.80" y1="472.70" x2="141.30" y2="472.70" stroke="#111" stroke-width="0.9"/>
<line x1="153.30" y1="472.70" x2="166.80" y2="472.70" stroke="#111" stroke-width="0.9"/>
<line x1="147.30" y1="453.70" x2="147.30" y2="466.70" stroke="#111" stroke-width="0.9"/>
<line x1="147.30" y1="478.70" x2="147.30" y2="491.70" stroke="#111" stroke-width="0.9"/>
<line x1="145.30" y1="472.70" x2="149.30" y2="472.70" stroke="#111" stroke-width="0.9"/>
<line x1="147.30" y1="470.70" x2="147.30" y2="474.70" stroke="#111" stroke-width="0.9"/>
<path d="M124.5,384 Q147.3,368 170,384 L170,447 Q147.3,463 124.5,447" fill="none" stroke="#222" stroke-width="1.1"/>
<circle cx="147.30" cy="415.50" r="16.50" fill="none" stroke="#111" stroke-width="1.0"/>
<circle cx="147.30" cy="415.50" r="13.20" fill="none" stroke="#111" stroke-width="1.0"/>
<circle cx="147.30" cy="415.50" r="10.50" fill="none" stroke="#111" stroke-width="2.2"/>
<circle cx="153.80" cy="415.50" r="1.20" fill="#222" stroke="#111" stroke-width="0.4"/>
<circle cx="151.90" cy="420.10" r="1.20" fill="#222" stroke="#111" stroke-width="0.4"/>
<circle cx="147.30" cy="422.00" r="1.20" fill="#222" stroke="#111" stroke-width="0.4"/>
<circle cx="142.70" cy="420.10" r="1.20" fill="#222" stroke="#111" stroke-width="0.4"/>
<circle cx="140.80" cy="415.50" r="1.20" fill="#222" stroke="#111" stroke-width="0.4"/>
<circle cx="142.70" cy="410.90" r="1.20" fill="#222" stroke="#111" stroke-width="0.4"/>
<circle cx="147.30" cy="409.00" r="1.20" fill="#222" stroke="#111" stroke-width="0.4"/>
<circle cx="151.90" cy="410.90" r="1.20" fill="#222" stroke="#111" stroke-width="0.4"/>
<circle cx="147.30" cy="415.50" r="1.60" fill="#111" stroke="#111" stroke-width="0.5"/>
<line x1="125.00" y1="415.50" x2="170.00" y2="415.50" stroke="#111" stroke-width="0.9"/>
<line x1="147.30" y1="393.00" x2="147.30" y2="438.00" stroke="#111" stroke-width="0.9"/>
<circle cx="135.10" cy="388.60" r="7.30" fill="none" stroke="#111" stroke-width="2.0"/>
<circle cx="135.10" cy="388.60" r="4.40" fill="none" stroke="#111" stroke-width="1.0"/>
<line x1="132.60" y1="388.60" x2="137.60" y2="388.60" stroke="#111" stroke-width="0.9"/>
<line x1="135.10" y1="386.10" x2="135.10" y2="391.10" stroke="#111" stroke-width="0.9"/>
<circle cx="159.40" cy="442.50" r="7.30" fill="none" stroke="#111" stroke-width="2.0"/>
<circle cx="159.40" cy="442.50" r="4.40" fill="none" stroke="#111" stroke-width="1.0"/>
<line x1="156.90" y1="442.50" x2="161.90" y2="442.50" stroke="#111" stroke-width="0.9"/>
<line x1="159.40" y1="440.00" x2="159.40" y2="445.00" stroke="#111" stroke-width="0.9"/>
<circle cx="159.00" cy="388.60" r="3.80" fill="none" stroke="#111" stroke-width="1.1"/>
<line x1="155.20" y1="388.60" x2="162.80" y2="388.60" stroke="#111" stroke-width="1.0"/>
<line x1="159.00" y1="384.80" x2="159.00" y2="392.40" stroke="#111" stroke-width="1.0"/>
<circle cx="135.30" cy="442.50" r="3.80" fill="none" stroke="#111" stroke-width="1.1"/>
<line x1="131.50" y1="442.50" x2="139.10" y2="442.50" stroke="#111" stroke-width="1.0"/>
<line x1="135.30" y1="438.70" x2="135.30" y2="446.30" stroke="#111" stroke-width="1.0"/>
<circle cx="147.30" cy="381.00" r="3.10" fill="none" stroke="#8a8a8a" stroke-width="0.9"/>
<circle cx="147.30" cy="450.00" r="3.10" fill="none" stroke="#8a8a8a" stroke-width="0.9"/>
<line x1="201.20" y1="336.00" x2="201.20" y2="496.00" stroke="#111" stroke-width="0.9"/>
<polygon points="201.20,336.00 199.20,345.00 203.20,345.00" fill="#111"/>
<polygon points="201.20,496.00 199.20,487.00 203.20,487.00" fill="#111"/>
<text transform="translate(200.30,423.50) rotate(-90)" x="0" y="0" font-family='"Liberation Sans", sans-serif' font-size="13.61" fill="#111" font-weight="normal" text-anchor="start" textLength="13.50" lengthAdjust="spacingAndGlyphs" stroke="#fff" stroke-width="0.2">80</text>
<line x1="195.20" y1="336.20" x2="228.30" y2="336.20" stroke="#555" stroke-width="1"/>
<line x1="237.60" y1="336.20" x2="246.20" y2="336.20" stroke="#555" stroke-width="1"/>
<line x1="258.10" y1="336.20" x2="274.00" y2="336.20" stroke="#555" stroke-width="1"/>
<line x1="195.20" y1="496.00" x2="245.80" y2="496.00" stroke="#555" stroke-width="1"/>
<line x1="256.70" y1="496.00" x2="274.00" y2="496.00" stroke="#555" stroke-width="1"/>
<line x1="221.30" y1="321.90" x2="221.30" y2="539.80" stroke="#111" stroke-width="0.9"/>
<polygon points="221.30,345.50 219.30,336.50 223.30,336.50" fill="#111"/>
<polygon points="221.30,496.00 219.30,505.00 223.30,505.00" fill="#111"/>
<line x1="216.70" y1="377.10" x2="225.90" y2="367.90" stroke="#111" stroke-width="1.0"/>
<line x1="216.70" y1="420.60" x2="225.90" y2="411.40" stroke="#111" stroke-width="1.0"/>
<line x1="216.70" y1="464.10" x2="225.90" y2="454.90" stroke="#111" stroke-width="1.0"/>
<line x1="216.70" y1="491.10" x2="225.90" y2="481.90" stroke="#111" stroke-width="1.0"/>
<line x1="241.30" y1="320.00" x2="241.30" y2="511.20" stroke="#111" stroke-width="0.9"/>
<polygon points="241.30,344.00 239.30,335.00 243.30,335.00" fill="#111"/>
<polygon points="241.30,488.00 239.30,497.00 243.30,497.00" fill="#111"/>
<line x1="236.70" y1="372.60" x2="245.90" y2="363.40" stroke="#111" stroke-width="1.0"/>
<line x1="236.70" y1="396.60" x2="245.90" y2="387.40" stroke="#111" stroke-width="1.0"/>
<line x1="236.70" y1="420.60" x2="245.90" y2="411.40" stroke="#111" stroke-width="1.0"/>
<line x1="236.70" y1="444.60" x2="245.90" y2="435.40" stroke="#111" stroke-width="1.0"/>
<line x1="236.70" y1="468.60" x2="245.90" y2="459.40" stroke="#111" stroke-width="1.0"/>
<text transform="translate(219.50,370.50) rotate(-90)" x="0" y="0" font-family='"Liberation Sans", sans-serif' font-size="13.61" fill="#111" font-weight="normal" text-anchor="start" textLength="23.00" lengthAdjust="spacingAndGlyphs" stroke="#fff" stroke-width="0.2">13,5</text>
<text transform="translate(219.50,408.45) rotate(-90)" x="0" y="0" font-family='"Liberation Sans", sans-serif' font-size="13.61" fill="#111" font-weight="normal" text-anchor="start" textLength="28.50" lengthAdjust="spacingAndGlyphs" stroke="#fff" stroke-width="0.2">21,75</text>
<text transform="translate(219.50,452.05) rotate(-90)" x="0" y="0" font-family='"Liberation Sans", sans-serif' font-size="13.61" fill="#111" font-weight="normal" text-anchor="start" textLength="28.50" lengthAdjust="spacingAndGlyphs" stroke="#fff" stroke-width="0.2">21,75</text>
<text transform="translate(219.50,484.50) rotate(-90)" x="0" y="0" font-family='"Liberation Sans", sans-serif' font-size="13.61" fill="#111" font-weight="normal" text-anchor="start" textLength="23.00" lengthAdjust="spacingAndGlyphs" stroke="#fff" stroke-width="0.2">13,5</text>
<text transform="translate(219.50,540.00) rotate(-90)" x="0" y="0" font-family='"Liberation Sans", sans-serif' font-size="13.61" fill="#111" font-weight="normal" text-anchor="start" textLength="27.00" lengthAdjust="spacingAndGlyphs" stroke="#fff" stroke-width="0.2">4,75</text>
<text transform="translate(239.30,362.75) rotate(-90)" x="0" y="0" font-family='"Liberation Sans", sans-serif' font-size="13.61" fill="#111" font-weight="normal" text-anchor="start" textLength="13.50" lengthAdjust="spacingAndGlyphs" stroke="#fff" stroke-width="0.2">12</text>
<text transform="translate(239.30,386.75) rotate(-90)" x="0" y="0" font-family='"Liberation Sans", sans-serif' font-size="13.61" fill="#111" font-weight="normal" text-anchor="start" textLength="13.50" lengthAdjust="spacingAndGlyphs" stroke="#fff" stroke-width="0.2">12</text>
<text transform="translate(239.30,410.75) rotate(-90)" x="0" y="0" font-family='"Liberation Sans", sans-serif' font-size="13.61" fill="#111" font-weight="normal" text-anchor="start" textLength="13.50" lengthAdjust="spacingAndGlyphs" stroke="#fff" stroke-width="0.2">12</text>
<text transform="translate(239.30,434.75) rotate(-90)" x="0" y="0" font-family='"Liberation Sans", sans-serif' font-size="13.61" fill="#111" font-weight="normal" text-anchor="start" textLength="13.50" lengthAdjust="spacingAndGlyphs" stroke="#fff" stroke-width="0.2">12</text>
<text transform="translate(239.30,458.75) rotate(-90)" x="0" y="0" font-family='"Liberation Sans", sans-serif' font-size="13.61" fill="#111" font-weight="normal" text-anchor="start" textLength="13.50" lengthAdjust="spacingAndGlyphs" stroke="#fff" stroke-width="0.2">12</text>
<text transform="translate(239.30,482.75) rotate(-90)" x="0" y="0" font-family='"Liberation Sans", sans-serif' font-size="13.61" fill="#111" font-weight="normal" text-anchor="start" textLength="13.50" lengthAdjust="spacingAndGlyphs" stroke="#fff" stroke-width="0.2">12</text>
<line x1="215.00" y1="345.30" x2="287.00" y2="345.30" stroke="#111" stroke-width="0.9"/>
<line x1="215.00" y1="372.50" x2="287.00" y2="372.50" stroke="#111" stroke-width="0.9"/>
<line x1="215.00" y1="459.50" x2="287.00" y2="459.50" stroke="#111" stroke-width="0.9"/>
<line x1="215.00" y1="486.50" x2="287.00" y2="486.50" stroke="#111" stroke-width="0.9"/>
<line x1="235.00" y1="344.00" x2="326.00" y2="344.00" stroke="#555" stroke-width="0.9"/>
<line x1="235.00" y1="368.00" x2="326.00" y2="368.00" stroke="#555" stroke-width="0.9"/>
<line x1="235.00" y1="392.00" x2="326.00" y2="392.00" stroke="#555" stroke-width="0.9"/>
<line x1="235.00" y1="440.00" x2="326.00" y2="440.00" stroke="#555" stroke-width="0.9"/>
<line x1="235.00" y1="464.00" x2="326.00" y2="464.00" stroke="#555" stroke-width="0.9"/>
<line x1="235.00" y1="488.00" x2="326.00" y2="488.00" stroke="#555" stroke-width="0.9"/>
<line x1="215.00" y1="415.60" x2="268.00" y2="415.60" stroke="#111" stroke-width="0.9"/>
<rect x="274.00" y="336.00" width="45.80" height="159.50" fill="none" stroke="#111" stroke-width="1.5"/>
<circle cx="296.30" cy="345.30" r="8.70" fill="none" stroke="#111" stroke-width="1.2"/>
<circle cx="296.30" cy="345.30" r="4.90" fill="none" stroke="#111" stroke-width="1.4"/>
<line x1="294.00" y1="345.30" x2="298.60" y2="345.30" stroke="#111" stroke-width="1.0"/>
<line x1="296.30" y1="343.00" x2="296.30" y2="347.60" stroke="#111" stroke-width="1.0"/>
<line x1="284.30" y1="345.30" x2="288.30" y2="345.30" stroke="#111" stroke-width="1.1"/>
<line x1="304.30" y1="345.30" x2="308.30" y2="345.30" stroke="#111" stroke-width="1.1"/>
<line x1="296.30" y1="333.30" x2="296.30" y2="337.30" stroke="#111" stroke-width="1.1"/>
<line x1="296.30" y1="353.30" x2="296.30" y2="357.30" stroke="#111" stroke-width="1.1"/>
<circle cx="296.30" cy="372.50" r="8.70" fill="none" stroke="#111" stroke-width="1.2"/>
<circle cx="296.30" cy="372.50" r="4.90" fill="none" stroke="#111" stroke-width="1.4"/>
<line x1="294.00" y1="372.50" x2="298.60" y2="372.50" stroke="#111" stroke-width="1.0"/>
<line x1="296.30" y1="370.20" x2="296.30" y2="374.80" stroke="#111" stroke-width="1.0"/>
<line x1="284.30" y1="372.50" x2="288.30" y2="372.50" stroke="#111" stroke-width="1.1"/>
<line x1="304.30" y1="372.50" x2="308.30" y2="372.50" stroke="#111" stroke-width="1.1"/>
<line x1="296.30" y1="360.50" x2="296.30" y2="364.50" stroke="#111" stroke-width="1.1"/>
<line x1="296.30" y1="380.50" x2="296.30" y2="384.50" stroke="#111" stroke-width="1.1"/>
<circle cx="296.30" cy="459.50" r="8.70" fill="none" stroke="#111" stroke-width="1.2"/>
<circle cx="296.30" cy="459.50" r="4.90" fill="none" stroke="#111" stroke-width="1.4"/>
<line x1="294.00" y1="459.50" x2="298.60" y2="459.50" stroke="#111" stroke-width="1.0"/>
<line x1="296.30" y1="457.20" x2="296.30" y2="461.80" stroke="#111" stroke-width="1.0"/>
<line x1="284.30" y1="459.50" x2="288.30" y2="459.50" stroke="#111" stroke-width="1.1"/>
<line x1="304.30" y1="459.50" x2="308.30" y2="459.50" stroke="#111" stroke-width="1.1"/>
<line x1="296.30" y1="447.50" x2="296.30" y2="451.50" stroke="#111" stroke-width="1.1"/>
<line x1="296.30" y1="467.50" x2="296.30" y2="471.50" stroke="#111" stroke-width="1.1"/>
<circle cx="296.30" cy="486.50" r="8.70" fill="none" stroke="#111" stroke-width="1.2"/>
<circle cx="296.30" cy="486.50" r="4.90" fill="none" stroke="#111" stroke-width="1.4"/>
<line x1="294.00" y1="486.50" x2="298.60" y2="486.50" stroke="#111" stroke-width="1.0"/>
<line x1="296.30" y1="484.20" x2="296.30" y2="488.80" stroke="#111" stroke-width="1.0"/>
<line x1="284.30" y1="486.50" x2="288.30" y2="486.50" stroke="#111" stroke-width="1.1"/>
<line x1="304.30" y1="486.50" x2="308.30" y2="486.50" stroke="#111" stroke-width="1.1"/>
<line x1="296.30" y1="474.50" x2="296.30" y2="478.50" stroke="#111" stroke-width="1.1"/>
<line x1="296.30" y1="494.50" x2="296.30" y2="498.50" stroke="#111" stroke-width="1.1"/>
<line x1="266.00" y1="415.50" x2="560.00" y2="415.50" stroke="#111" stroke-width="0.9" stroke-dasharray="10,4"/>
<line x1="299.00" y1="372.70" x2="326.00" y2="372.70" stroke="#111" stroke-width="0.9"/>
<line x1="299.00" y1="459.40" x2="326.00" y2="459.40" stroke="#111" stroke-width="0.9"/>
<rect x="325.20" y="337.20" width="3.70" height="157.10" fill="#888"/>
<rect x="326.00" y="491.00" width="110.00" height="3.50" fill="#888"/>
<line x1="326.00" y1="337.20" x2="436.00" y2="337.20" stroke="#111" stroke-width="1.3"/>
<line x1="328.90" y1="339.20" x2="433.60" y2="339.20" stroke="#111" stroke-width="0.9"/>
<line x1="433.60" y1="339.20" x2="433.60" y2="491.00" stroke="#111" stroke-width="0.9"/>
<line x1="436.00" y1="337.20" x2="436.00" y2="494.50" stroke="#111" stroke-width="1.1"/>
<line x1="326.00" y1="494.50" x2="436.00" y2="494.50" stroke="#111" stroke-width="1.2"/>
<circle cx="333.00" cy="344.20" r="3.40" fill="none" stroke="#111" stroke-width="1.3"/>
<line x1="329.60" y1="344.20" x2="336.40" y2="344.20" stroke="#111" stroke-width="1.0"/>
<line x1="333.00" y1="340.80" x2="333.00" y2="347.60" stroke="#111" stroke-width="1.0"/>
<circle cx="348.90" cy="344.20" r="3.40" fill="none" stroke="#111" stroke-width="1.3"/>
<line x1="345.50" y1="344.20" x2="352.30" y2="344.20" stroke="#111" stroke-width="1.0"/>
<line x1="348.90" y1="340.80" x2="348.90" y2="347.60" stroke="#111" stroke-width="1.0"/>
<circle cx="364.80" cy="344.20" r="3.40" fill="none" stroke="#111" stroke-width="1.3"/>
<line x1="361.40" y1="344.20" x2="368.20" y2="344.20" stroke="#111" stroke-width="1.0"/>
<line x1="364.80" y1="340.80" x2="364.80" y2="347.60" stroke="#111" stroke-width="1.0"/>
<circle cx="380.60" cy="344.20" r="3.40" fill="none" stroke="#111" stroke-width="1.3"/>
<line x1="377.20" y1="344.20" x2="384.00" y2="344.20" stroke="#111" stroke-width="1.0"/>
<line x1="380.60" y1="340.80" x2="380.60" y2="347.60" stroke="#111" stroke-width="1.0"/>
<circle cx="396.60" cy="344.20" r="3.40" fill="none" stroke="#111" stroke-width="1.3"/>
<line x1="393.20" y1="344.20" x2="400.00" y2="344.20" stroke="#111" stroke-width="1.0"/>
<line x1="396.60" y1="340.80" x2="396.60" y2="347.60" stroke="#111" stroke-width="1.0"/>
<circle cx="412.50" cy="344.20" r="3.40" fill="none" stroke="#111" stroke-width="1.3"/>
<line x1="409.10" y1="344.20" x2="415.90" y2="344.20" stroke="#111" stroke-width="1.0"/>
<line x1="412.50" y1="340.80" x2="412.50" y2="347.60" stroke="#111" stroke-width="1.0"/>
<circle cx="428.60" cy="344.20" r="3.40" fill="none" stroke="#111" stroke-width="1.3"/>
<line x1="425.20" y1="344.20" x2="432.00" y2="344.20" stroke="#111" stroke-width="1.0"/>
<line x1="428.60" y1="340.80" x2="428.60" y2="347.60" stroke="#111" stroke-width="1.0"/>
<circle cx="333.00" cy="391.80" r="3.40" fill="none" stroke="#111" stroke-width="1.3"/>
<line x1="329.60" y1="391.80" x2="336.40" y2="391.80" stroke="#111" stroke-width="1.0"/>
<line x1="333.00" y1="388.40" x2="333.00" y2="395.20" stroke="#111" stroke-width="1.0"/>
<circle cx="348.90" cy="391.80" r="3.40" fill="none" stroke="#111" stroke-width="1.3"/>
<line x1="345.50" y1="391.80" x2="352.30" y2="391.80" stroke="#111" stroke-width="1.0"/>
<line x1="348.90" y1="388.40" x2="348.90" y2="395.20" stroke="#111" stroke-width="1.0"/>
<circle cx="364.80" cy="391.80" r="3.40" fill="none" stroke="#111" stroke-width="1.3"/>
<line x1="361.40" y1="391.80" x2="368.20" y2="391.80" stroke="#111" stroke-width="1.0"/>
<line x1="364.80" y1="388.40" x2="364.80" y2="395.20" stroke="#111" stroke-width="1.0"/>
<circle cx="380.60" cy="391.80" r="3.40" fill="none" stroke="#111" stroke-width="1.3"/>
<line x1="377.20" y1="391.80" x2="384.00" y2="391.80" stroke="#111" stroke-width="1.0"/>
<line x1="380.60" y1="388.40" x2="380.60" y2="395.20" stroke="#111" stroke-width="1.0"/>
<circle cx="396.60" cy="391.80" r="3.40" fill="none" stroke="#111" stroke-width="1.3"/>
<line x1="393.20" y1="391.80" x2="400.00" y2="391.80" stroke="#111" stroke-width="1.0"/>
<line x1="396.60" y1="388.40" x2="396.60" y2="395.20" stroke="#111" stroke-width="1.0"/>
<circle cx="412.50" cy="391.80" r="3.40" fill="none" stroke="#111" stroke-width="1.3"/>
<line x1="409.10" y1="391.80" x2="415.90" y2="391.80" stroke="#111" stroke-width="1.0"/>
<line x1="412.50" y1="388.40" x2="412.50" y2="395.20" stroke="#111" stroke-width="1.0"/>
<circle cx="428.60" cy="391.80" r="3.40" fill="none" stroke="#111" stroke-width="1.3"/>
<line x1="425.20" y1="391.80" x2="432.00" y2="391.80" stroke="#111" stroke-width="1.0"/>
<line x1="428.60" y1="388.40" x2="428.60" y2="395.20" stroke="#111" stroke-width="1.0"/>
<circle cx="333.00" cy="440.00" r="3.40" fill="none" stroke="#111" stroke-width="1.3"/>
<line x1="329.60" y1="440.00" x2="336.40" y2="440.00" stroke="#111" stroke-width="1.0"/>
<line x1="333.00" y1="436.60" x2="333.00" y2="443.40" stroke="#111" stroke-width="1.0"/>
<circle cx="348.90" cy="440.00" r="3.40" fill="none" stroke="#111" stroke-width="1.3"/>
<line x1="345.50" y1="440.00" x2="352.30" y2="440.00" stroke="#111" stroke-width="1.0"/>
<line x1="348.90" y1="436.60" x2="348.90" y2="443.40" stroke="#111" stroke-width="1.0"/>
<circle cx="364.80" cy="440.00" r="3.40" fill="none" stroke="#111" stroke-width="1.3"/>
<line x1="361.40" y1="440.00" x2="368.20" y2="440.00" stroke="#111" stroke-width="1.0"/>
<line x1="364.80" y1="436.60" x2="364.80" y2="443.40" stroke="#111" stroke-width="1.0"/>
<circle cx="380.60" cy="440.00" r="3.40" fill="none" stroke="#111" stroke-width="1.3"/>
<line x1="377.20" y1="440.00" x2="384.00" y2="440.00" stroke="#111" stroke-width="1.0"/>
<line x1="380.60" y1="436.60" x2="380.60" y2="443.40" stroke="#111" stroke-width="1.0"/>
<circle cx="396.60" cy="440.00" r="3.40" fill="none" stroke="#111" stroke-width="1.3"/>
<line x1="393.20" y1="440.00" x2="400.00" y2="440.00" stroke="#111" stroke-width="1.0"/>
<line x1="396.60" y1="436.60" x2="396.60" y2="443.40" stroke="#111" stroke-width="1.0"/>
<circle cx="412.50" cy="440.00" r="3.40" fill="none" stroke="#111" stroke-width="1.3"/>
<line x1="409.10" y1="440.00" x2="415.90" y2="440.00" stroke="#111" stroke-width="1.0"/>
<line x1="412.50" y1="436.60" x2="412.50" y2="443.40" stroke="#111" stroke-width="1.0"/>
<circle cx="428.60" cy="440.00" r="3.40" fill="none" stroke="#111" stroke-width="1.3"/>
<line x1="425.20" y1="440.00" x2="432.00" y2="440.00" stroke="#111" stroke-width="1.0"/>
<line x1="428.60" y1="436.60" x2="428.60" y2="443.40" stroke="#111" stroke-width="1.0"/>
<circle cx="333.00" cy="487.80" r="3.40" fill="none" stroke="#111" stroke-width="1.3"/>
<line x1="329.60" y1="487.80" x2="336.40" y2="487.80" stroke="#111" stroke-width="1.0"/>
<line x1="333.00" y1="484.40" x2="333.00" y2="491.20" stroke="#111" stroke-width="1.0"/>
<circle cx="348.90" cy="487.80" r="3.40" fill="none" stroke="#111" stroke-width="1.3"/>
<line x1="345.50" y1="487.80" x2="352.30" y2="487.80" stroke="#111" stroke-width="1.0"/>
<line x1="348.90" y1="484.40" x2="348.90" y2="491.20" stroke="#111" stroke-width="1.0"/>
<circle cx="364.80" cy="487.80" r="3.40" fill="none" stroke="#111" stroke-width="1.3"/>
<line x1="361.40" y1="487.80" x2="368.20" y2="487.80" stroke="#111" stroke-width="1.0"/>
<line x1="364.80" y1="484.40" x2="364.80" y2="491.20" stroke="#111" stroke-width="1.0"/>
<circle cx="380.60" cy="487.80" r="3.40" fill="none" stroke="#111" stroke-width="1.3"/>
<line x1="377.20" y1="487.80" x2="384.00" y2="487.80" stroke="#111" stroke-width="1.0"/>
<line x1="380.60" y1="484.40" x2="380.60" y2="491.20" stroke="#111" stroke-width="1.0"/>
<circle cx="396.60" cy="487.80" r="3.40" fill="none" stroke="#111" stroke-width="1.3"/>
<line x1="393.20" y1="487.80" x2="400.00" y2="487.80" stroke="#111" stroke-width="1.0"/>
<line x1="396.60" y1="484.40" x2="396.60" y2="491.20" stroke="#111" stroke-width="1.0"/>
<circle cx="412.50" cy="487.80" r="3.40" fill="none" stroke="#111" stroke-width="1.3"/>
<line x1="409.10" y1="487.80" x2="415.90" y2="487.80" stroke="#111" stroke-width="1.0"/>
<line x1="412.50" y1="484.40" x2="412.50" y2="491.20" stroke="#111" stroke-width="1.0"/>
<circle cx="428.60" cy="487.80" r="3.40" fill="none" stroke="#111" stroke-width="1.3"/>
<line x1="425.20" y1="487.80" x2="432.00" y2="487.80" stroke="#111" stroke-width="1.0"/>
<line x1="428.60" y1="484.40" x2="428.60" y2="491.20" stroke="#111" stroke-width="1.0"/>
<circle cx="336.00" cy="367.90" r="4.90" fill="none" stroke="#111" stroke-width="1.4"/>
<line x1="333.20" y1="367.90" x2="338.80" y2="367.90" stroke="#111" stroke-width="1.1"/>
<line x1="336.00" y1="365.10" x2="336.00" y2="370.70" stroke="#111" stroke-width="1.1"/>
<circle cx="357.00" cy="367.90" r="4.90" fill="none" stroke="#111" stroke-width="1.4"/>
<line x1="354.20" y1="367.90" x2="359.80" y2="367.90" stroke="#111" stroke-width="1.1"/>
<line x1="357.00" y1="365.10" x2="357.00" y2="370.70" stroke="#111" stroke-width="1.1"/>
<circle cx="404.80" cy="367.90" r="4.90" fill="none" stroke="#111" stroke-width="1.4"/>
<line x1="402.00" y1="367.90" x2="407.60" y2="367.90" stroke="#111" stroke-width="1.1"/>
<line x1="404.80" y1="365.10" x2="404.80" y2="370.70" stroke="#111" stroke-width="1.1"/>
<circle cx="425.80" cy="367.90" r="4.90" fill="none" stroke="#111" stroke-width="1.4"/>
<line x1="423.00" y1="367.90" x2="428.60" y2="367.90" stroke="#111" stroke-width="1.1"/>
<line x1="425.80" y1="365.10" x2="425.80" y2="370.70" stroke="#111" stroke-width="1.1"/>
<circle cx="336.00" cy="415.50" r="4.90" fill="none" stroke="#111" stroke-width="1.4"/>
<line x1="333.20" y1="415.50" x2="338.80" y2="415.50" stroke="#111" stroke-width="1.1"/>
<line x1="336.00" y1="412.70" x2="336.00" y2="418.30" stroke="#111" stroke-width="1.1"/>
<circle cx="357.00" cy="415.50" r="4.90" fill="none" stroke="#111" stroke-width="1.4"/>
<line x1="354.20" y1="415.50" x2="359.80" y2="415.50" stroke="#111" stroke-width="1.1"/>
<line x1="357.00" y1="412.70" x2="357.00" y2="418.30" stroke="#111" stroke-width="1.1"/>
<circle cx="404.80" cy="415.50" r="4.90" fill="none" stroke="#111" stroke-width="1.4"/>
<line x1="402.00" y1="415.50" x2="407.60" y2="415.50" stroke="#111" stroke-width="1.1"/>
<line x1="404.80" y1="412.70" x2="404.80" y2="418.30" stroke="#111" stroke-width="1.1"/>
<circle cx="425.80" cy="415.50" r="4.90" fill="none" stroke="#111" stroke-width="1.4"/>
<line x1="423.00" y1="415.50" x2="428.60" y2="415.50" stroke="#111" stroke-width="1.1"/>
<line x1="425.80" y1="412.70" x2="425.80" y2="418.30" stroke="#111" stroke-width="1.1"/>
<circle cx="336.00" cy="463.50" r="4.90" fill="none" stroke="#111" stroke-width="1.4"/>
<line x1="333.20" y1="463.50" x2="338.80" y2="463.50" stroke="#111" stroke-width="1.1"/>
<line x1="336.00" y1="460.70" x2="336.00" y2="466.30" stroke="#111" stroke-width="1.1"/>
<circle cx="357.00" cy="463.50" r="4.90" fill="none" stroke="#111" stroke-width="1.4"/>
<line x1="354.20" y1="463.50" x2="359.80" y2="463.50" stroke="#111" stroke-width="1.1"/>
<line x1="357.00" y1="460.70" x2="357.00" y2="466.30" stroke="#111" stroke-width="1.1"/>
<circle cx="404.80" cy="463.50" r="4.90" fill="none" stroke="#111" stroke-width="1.4"/>
<line x1="402.00" y1="463.50" x2="407.60" y2="463.50" stroke="#111" stroke-width="1.1"/>
<line x1="404.80" y1="460.70" x2="404.80" y2="466.30" stroke="#111" stroke-width="1.1"/>
<circle cx="425.80" cy="463.50" r="4.90" fill="none" stroke="#111" stroke-width="1.4"/>
<line x1="423.00" y1="463.50" x2="428.60" y2="463.50" stroke="#111" stroke-width="1.1"/>
<line x1="425.80" y1="460.70" x2="425.80" y2="466.30" stroke="#111" stroke-width="1.1"/>
<circle cx="380.60" cy="367.90" r="3.40" fill="none" stroke="#111" stroke-width="1.3"/>
<line x1="377.20" y1="367.90" x2="384.00" y2="367.90" stroke="#111" stroke-width="1.0"/>
<line x1="380.60" y1="364.50" x2="380.60" y2="371.30" stroke="#111" stroke-width="1.0"/>
<circle cx="380.60" cy="463.50" r="3.40" fill="none" stroke="#111" stroke-width="1.3"/>
<line x1="377.20" y1="463.50" x2="384.00" y2="463.50" stroke="#111" stroke-width="1.0"/>
<line x1="380.60" y1="460.10" x2="380.60" y2="466.90" stroke="#111" stroke-width="1.0"/>
<circle cx="372.70" cy="399.90" r="3.70" fill="none" stroke="#111" stroke-width="1.0"/>
<line x1="369.00" y1="399.90" x2="376.40" y2="399.90" stroke="#111" stroke-width="1.0"/>
<line x1="372.70" y1="396.20" x2="372.70" y2="403.60" stroke="#111" stroke-width="1.0"/>
<circle cx="388.80" cy="399.90" r="3.70" fill="none" stroke="#111" stroke-width="1.0"/>
<line x1="385.10" y1="399.90" x2="392.50" y2="399.90" stroke="#111" stroke-width="1.0"/>
<line x1="388.80" y1="396.20" x2="388.80" y2="403.60" stroke="#111" stroke-width="1.0"/>
<circle cx="372.70" cy="431.50" r="3.70" fill="none" stroke="#111" stroke-width="1.0"/>
<line x1="369.00" y1="431.50" x2="376.40" y2="431.50" stroke="#111" stroke-width="1.0"/>
<line x1="372.70" y1="427.80" x2="372.70" y2="435.20" stroke="#111" stroke-width="1.0"/>
<circle cx="388.80" cy="431.50" r="3.70" fill="none" stroke="#111" stroke-width="1.0"/>
<line x1="385.10" y1="431.50" x2="392.50" y2="431.50" stroke="#111" stroke-width="1.0"/>
<line x1="388.80" y1="427.80" x2="388.80" y2="435.20" stroke="#111" stroke-width="1.0"/>
<line x1="392.00" y1="399.90" x2="440.00" y2="399.90" stroke="#8a8a8a" stroke-width="0.9"/>
<line x1="392.00" y1="431.50" x2="440.00" y2="431.50" stroke="#8a8a8a" stroke-width="0.9"/>
<circle cx="380.60" cy="415.50" r="8.20" fill="none" stroke="#111" stroke-width="2.0"/>
<circle cx="380.60" cy="415.50" r="5.80" fill="none" stroke="#111" stroke-width="1.0"/>
<line x1="376.00" y1="411.00" x2="385.00" y2="420.00" stroke="#111" stroke-width="1.2"/>
<line x1="376.00" y1="420.00" x2="385.00" y2="411.00" stroke="#111" stroke-width="1.2"/>
<line x1="379.40" y1="388.00" x2="379.40" y2="407.50" stroke="#111" stroke-width="1.0"/>
<line x1="381.80" y1="388.00" x2="381.80" y2="407.50" stroke="#111" stroke-width="1.0"/>
<circle cx="380.60" cy="391.80" r="3.20" fill="#111" stroke="#111" stroke-width="0.5"/>
<polygon points="376.20,388.50 380.60,381.30 385.00,388.50" fill="#fff" stroke="#111" stroke-width="1.1"/>
<text x="387.00" y="387.80" font-family='"Liberation Sans", sans-serif' font-size="8.50" fill="#111" font-weight="bold" text-anchor="start" textLength="5.50" lengthAdjust="spacingAndGlyphs">X</text>
<line x1="388.80" y1="414.30" x2="407.00" y2="414.30" stroke="#111" stroke-width="1.0"/>
<line x1="388.80" y1="416.70" x2="407.00" y2="416.70" stroke="#111" stroke-width="1.0"/>
<polygon points="407.00,411.50 415.40,415.50 407.00,419.50" fill="#fff" stroke="#111" stroke-width="1.1"/>
<text x="416.00" y="428.50" font-family='"Liberation Sans", sans-serif' font-size="8.50" fill="#111" font-weight="bold" text-anchor="start" textLength="6.00" lengthAdjust="spacingAndGlyphs">Y</text>
<text x="368.50" y="428.00" font-family='"Liberation Sans", sans-serif' font-size="8.50" fill="#111" font-weight="bold" text-anchor="start" textLength="6.00" lengthAdjust="spacingAndGlyphs">Z</text>
<line x1="438.00" y1="337.20" x2="438.00" y2="494.50" stroke="#111" stroke-width="0.8"/>
<rect x="441.70" y="336.00" width="45.30" height="159.50" fill="none" stroke="#111" stroke-width="1.5"/>
<circle cx="465.30" cy="345.30" r="8.70" fill="none" stroke="#111" stroke-width="1.2"/>
<circle cx="465.30" cy="345.30" r="4.90" fill="none" stroke="#111" stroke-width="1.4"/>
<line x1="463.00" y1="345.30" x2="467.60" y2="345.30" stroke="#111" stroke-width="1.0"/>
<line x1="465.30" y1="343.00" x2="465.30" y2="347.60" stroke="#111" stroke-width="1.0"/>
<line x1="453.30" y1="345.30" x2="457.30" y2="345.30" stroke="#111" stroke-width="1.1"/>
<line x1="473.30" y1="345.30" x2="477.30" y2="345.30" stroke="#111" stroke-width="1.1"/>
<line x1="465.30" y1="333.30" x2="465.30" y2="337.30" stroke="#111" stroke-width="1.1"/>
<line x1="465.30" y1="353.30" x2="465.30" y2="357.30" stroke="#111" stroke-width="1.1"/>
<circle cx="465.30" cy="372.50" r="8.70" fill="none" stroke="#111" stroke-width="1.2"/>
<circle cx="465.30" cy="372.50" r="4.90" fill="none" stroke="#111" stroke-width="1.4"/>
<line x1="463.00" y1="372.50" x2="467.60" y2="372.50" stroke="#111" stroke-width="1.0"/>
<line x1="465.30" y1="370.20" x2="465.30" y2="374.80" stroke="#111" stroke-width="1.0"/>
<line x1="453.30" y1="372.50" x2="457.30" y2="372.50" stroke="#111" stroke-width="1.1"/>
<line x1="473.30" y1="372.50" x2="477.30" y2="372.50" stroke="#111" stroke-width="1.1"/>
<line x1="465.30" y1="360.50" x2="465.30" y2="364.50" stroke="#111" stroke-width="1.1"/>
<line x1="465.30" y1="380.50" x2="465.30" y2="384.50" stroke="#111" stroke-width="1.1"/>
<circle cx="465.30" cy="459.50" r="8.70" fill="none" stroke="#111" stroke-width="1.2"/>
<circle cx="465.30" cy="459.50" r="4.90" fill="none" stroke="#111" stroke-width="1.4"/>
<line x1="463.00" y1="459.50" x2="467.60" y2="459.50" stroke="#111" stroke-width="1.0"/>
<line x1="465.30" y1="457.20" x2="465.30" y2="461.80" stroke="#111" stroke-width="1.0"/>
<line x1="453.30" y1="459.50" x2="457.30" y2="459.50" stroke="#111" stroke-width="1.1"/>
<line x1="473.30" y1="459.50" x2="477.30" y2="459.50" stroke="#111" stroke-width="1.1"/>
<line x1="465.30" y1="447.50" x2="465.30" y2="451.50" stroke="#111" stroke-width="1.1"/>
<line x1="465.30" y1="467.50" x2="465.30" y2="471.50" stroke="#111" stroke-width="1.1"/>
<circle cx="465.30" cy="486.50" r="8.70" fill="none" stroke="#111" stroke-width="1.2"/>
<circle cx="465.30" cy="486.50" r="4.90" fill="none" stroke="#111" stroke-width="1.4"/>
<line x1="463.00" y1="486.50" x2="467.60" y2="486.50" stroke="#111" stroke-width="1.0"/>
<line x1="465.30" y1="484.20" x2="465.30" y2="488.80" stroke="#111" stroke-width="1.0"/>
<line x1="453.30" y1="486.50" x2="457.30" y2="486.50" stroke="#111" stroke-width="1.1"/>
<line x1="473.30" y1="486.50" x2="477.30" y2="486.50" stroke="#111" stroke-width="1.1"/>
<line x1="465.30" y1="474.50" x2="465.30" y2="478.50" stroke="#111" stroke-width="1.1"/>
<line x1="465.30" y1="494.50" x2="465.30" y2="498.50" stroke="#111" stroke-width="1.1"/>
<line x1="447.75" y1="397.00" x2="447.75" y2="437.00" stroke="#111" stroke-width="3.2999999999999545" stroke-dasharray="4,0.5,3,0.6,5,0.5"/>
<line x1="452.70" y1="396.00" x2="452.70" y2="436.00" stroke="#111" stroke-width="3.3999999999999773" stroke-dasharray="4,0.5,3,0.6,5,0.5"/>
<line x1="457.40" y1="402.00" x2="457.40" y2="437.00" stroke="#111" stroke-width="3.1999999999999886" stroke-dasharray="4,0.5,3,0.6,5,0.5"/>
<line x1="461.90" y1="412.00" x2="461.90" y2="437.00" stroke="#111" stroke-width="2.8000000000000114" stroke-dasharray="4,0.5,3,0.6,5,0.5"/>
<circle cx="471.00" cy="402.50" r="1.80" fill="#111" stroke="#111" stroke-width="0.5"/>
<line x1="471.00" y1="407.50" x2="471.00" y2="411.00" stroke="#111" stroke-width="2.4"/>
<line x1="471.00" y1="417.50" x2="471.00" y2="421.00" stroke="#111" stroke-width="2.4"/>
<line x1="471.00" y1="425.50" x2="471.00" y2="429.00" stroke="#111" stroke-width="2.4"/>
<line x1="471.00" y1="433.50" x2="471.00" y2="437.00" stroke="#111" stroke-width="2.4"/>
<rect x="487.00" y="377.50" width="9.60" height="78.30" fill="none" stroke="#111" stroke-width="1.0"/>
<line x1="487.00" y1="381.00" x2="496.60" y2="381.00" stroke="#111" stroke-width="0.8"/>
<line x1="487.00" y1="452.00" x2="496.60" y2="452.00" stroke="#111" stroke-width="0.8"/>
<rect x="496.60" y="375.50" width="13.80" height="80.80" fill="none" stroke="#111" stroke-width="1.0"/>
<line x1="496.60" y1="381.00" x2="510.40" y2="381.00" stroke="#111" stroke-width="0.8"/>
<line x1="496.60" y1="451.00" x2="510.40" y2="451.00" stroke="#111" stroke-width="0.8"/>
<rect x="510.40" y="399.60" width="13.20" height="32.80" fill="none" stroke="#111" stroke-width="0.9"/>
<line x1="510.40" y1="399.60" x2="523.60" y2="399.60" stroke="#111" stroke-width="1.8"/>
<line x1="510.40" y1="432.40" x2="523.60" y2="432.40" stroke="#111" stroke-width="1.8"/>
<line x1="523.60" y1="399.60" x2="548.00" y2="399.60" stroke="#111" stroke-width="0.9"/>
<line x1="523.60" y1="432.40" x2="548.00" y2="432.40" stroke="#111" stroke-width="0.9"/>
<line x1="541.70" y1="399.60" x2="541.70" y2="432.40" stroke="#111" stroke-width="0.9"/>
<polygon points="541.70,399.60 539.70,408.60 543.70,408.60" fill="#111"/>
<polygon points="541.70,432.40 539.70,423.40 543.70,423.40" fill="#111"/>
<text transform="translate(539.80,423.00) rotate(-90)" x="0" y="0" font-family='"Liberation Sans", sans-serif' font-size="13.61" fill="#111" font-weight="normal" text-anchor="start" textLength="13.50" lengthAdjust="spacingAndGlyphs" stroke="#fff" stroke-width="0.2">16</text>
<line x1="487.00" y1="337.70" x2="568.00" y2="337.70" stroke="#9a9a9a" stroke-width="0.9"/>
<line x1="487.00" y1="494.30" x2="568.00" y2="494.30" stroke="#9a9a9a" stroke-width="0.9"/>
<line x1="561.00" y1="337.70" x2="561.00" y2="494.30" stroke="#111" stroke-width="0.9"/>
<polygon points="561.00,337.70 559.00,346.70 563.00,346.70" fill="#111"/>
<polygon points="561.00,494.30 559.00,485.30 563.00,485.30" fill="#111"/>
<text transform="translate(559.50,423.00) rotate(-90)" x="0" y="0" font-family='"Liberation Sans", sans-serif' font-size="13.61" fill="#111" font-weight="normal" text-anchor="start" textLength="13.50" lengthAdjust="spacingAndGlyphs" stroke="#fff" stroke-width="0.2">79</text>
<line x1="273.80" y1="496.00" x2="273.80" y2="628.80" stroke="#8a8a8a" stroke-width="0.9"/>
<line x1="295.70" y1="502.60" x2="295.70" y2="581.30" stroke="#8a8a8a" stroke-width="0.9"/>
<line x1="465.10" y1="496.00" x2="465.10" y2="581.30" stroke="#111" stroke-width="0.9"/>
<line x1="487.50" y1="496.00" x2="487.50" y2="601.70" stroke="#111" stroke-width="0.9"/>
<line x1="523.40" y1="432.40" x2="523.40" y2="628.80" stroke="#8a8a8a" stroke-width="0.9"/>
<line x1="333.00" y1="491.00" x2="333.00" y2="521.00" stroke="#8a8a8a" stroke-width="0.9"/>
<line x1="348.90" y1="491.00" x2="348.90" y2="521.00" stroke="#8a8a8a" stroke-width="0.9"/>
<line x1="364.80" y1="491.00" x2="364.80" y2="521.00" stroke="#8a8a8a" stroke-width="0.9"/>
<line x1="380.60" y1="491.00" x2="380.60" y2="521.00" stroke="#8a8a8a" stroke-width="0.9"/>
<line x1="396.60" y1="491.00" x2="396.60" y2="521.00" stroke="#8a8a8a" stroke-width="0.9"/>
<line x1="412.50" y1="491.00" x2="412.50" y2="521.00" stroke="#8a8a8a" stroke-width="0.9"/>
<line x1="428.60" y1="491.00" x2="428.60" y2="521.00" stroke="#8a8a8a" stroke-width="0.9"/>
<line x1="308.70" y1="515.60" x2="452.50" y2="515.60" stroke="#8a8a8a" stroke-width="0.9"/>
<polygon points="333.00,515.60 324.00,513.60 324.00,517.60" fill="#111"/>
<polygon points="428.60,515.60 437.60,513.60 437.60,517.60" fill="#111"/>
<line x1="344.30" y1="520.20" x2="353.50" y2="511.00" stroke="#111" stroke-width="1.0"/>
<line x1="360.20" y1="520.20" x2="369.40" y2="511.00" stroke="#111" stroke-width="1.0"/>
<line x1="376.00" y1="520.20" x2="385.20" y2="511.00" stroke="#111" stroke-width="1.0"/>
<line x1="392.00" y1="520.20" x2="401.20" y2="511.00" stroke="#111" stroke-width="1.0"/>
<line x1="407.90" y1="520.20" x2="417.10" y2="511.00" stroke="#111" stroke-width="1.0"/>
<text x="336.00" y="513.00" font-family='"Liberation Sans", sans-serif' font-size="13.61" fill="#111" font-weight="normal" text-anchor="start" textLength="6.50" lengthAdjust="spacingAndGlyphs" stroke="#fff" stroke-width="0.2">8</text>
<text x="351.90" y="513.00" font-family='"Liberation Sans", sans-serif' font-size="13.61" fill="#111" font-weight="normal" text-anchor="start" textLength="6.50" lengthAdjust="spacingAndGlyphs" stroke="#fff" stroke-width="0.2">8</text>
<text x="367.80" y="513.00" font-family='"Liberation Sans", sans-serif' font-size="13.61" fill="#111" font-weight="normal" text-anchor="start" textLength="6.50" lengthAdjust="spacingAndGlyphs" stroke="#fff" stroke-width="0.2">8</text>
<text x="383.60" y="513.00" font-family='"Liberation Sans", sans-serif' font-size="13.61" fill="#111" font-weight="normal" text-anchor="start" textLength="6.50" lengthAdjust="spacingAndGlyphs" stroke="#fff" stroke-width="0.2">8</text>
<text x="399.60" y="513.00" font-family='"Liberation Sans", sans-serif' font-size="13.61" fill="#111" font-weight="normal" text-anchor="start" textLength="6.50" lengthAdjust="spacingAndGlyphs" stroke="#fff" stroke-width="0.2">8</text>
<text x="415.50" y="513.00" font-family='"Liberation Sans", sans-serif' font-size="13.61" fill="#111" font-weight="normal" text-anchor="start" textLength="6.50" lengthAdjust="spacingAndGlyphs" stroke="#fff" stroke-width="0.2">8</text>
<line x1="336.00" y1="470.00" x2="336.00" y2="542.00" stroke="#8a8a8a" stroke-width="0.9"/>
<line x1="357.00" y1="470.00" x2="357.00" y2="542.00" stroke="#8a8a8a" stroke-width="0.9"/>
<line x1="380.60" y1="470.00" x2="380.60" y2="542.00" stroke="#8a8a8a" stroke-width="0.9"/>
<line x1="404.80" y1="470.00" x2="404.80" y2="542.00" stroke="#8a8a8a" stroke-width="0.9"/>
<line x1="425.80" y1="470.00" x2="425.80" y2="542.00" stroke="#8a8a8a" stroke-width="0.9"/>
<line x1="307.80" y1="536.00" x2="458.30" y2="536.00" stroke="#8a8a8a" stroke-width="0.9"/>
<line x1="331.40" y1="540.60" x2="340.60" y2="531.40" stroke="#111" stroke-width="1.0"/>
<line x1="352.40" y1="540.60" x2="361.60" y2="531.40" stroke="#111" stroke-width="1.0"/>
<line x1="376.00" y1="540.60" x2="385.20" y2="531.40" stroke="#111" stroke-width="1.0"/>
<line x1="400.20" y1="540.60" x2="409.40" y2="531.40" stroke="#111" stroke-width="1.0"/>
<line x1="421.20" y1="540.60" x2="430.40" y2="531.40" stroke="#111" stroke-width="1.0"/>
<text x="307.80" y="533.70" font-family='"Liberation Sans", sans-serif' font-size="13.61" fill="#111" font-weight="normal" text-anchor="start" textLength="26.50" lengthAdjust="spacingAndGlyphs" stroke="#fff" stroke-width="0.2">10,5</text>
<text x="360.50" y="533.70" font-family='"Liberation Sans", sans-serif' font-size="13.61" fill="#111" font-weight="normal" text-anchor="start" textLength="13.00" lengthAdjust="spacingAndGlyphs" stroke="#fff" stroke-width="0.2">12</text>
<text x="385.00" y="533.70" font-family='"Liberation Sans", sans-serif' font-size="13.61" fill="#111" font-weight="normal" text-anchor="start" textLength="13.00" lengthAdjust="spacingAndGlyphs" stroke="#fff" stroke-width="0.2">12</text>
<text x="431.00" y="533.70" font-family='"Liberation Sans", sans-serif' font-size="13.61" fill="#111" font-weight="normal" text-anchor="start" textLength="26.50" lengthAdjust="spacingAndGlyphs" stroke="#fff" stroke-width="0.2">10,5</text>
<line x1="326.20" y1="546.00" x2="326.20" y2="565.00" stroke="#111" stroke-width="0.9"/>
<line x1="435.60" y1="546.00" x2="435.60" y2="565.00" stroke="#111" stroke-width="0.9"/>
<line x1="326.20" y1="555.60" x2="435.60" y2="555.60" stroke="#8a8a8a" stroke-width="0.9"/>
<polygon points="326.20,555.60 335.20,553.60 335.20,557.60" fill="#111"/>
<polygon points="435.60,555.60 426.60,553.60 426.60,557.60" fill="#111"/>
<text x="372.80" y="553.00" font-family='"Liberation Sans", sans-serif' font-size="13.61" fill="#111" font-weight="normal" text-anchor="start" textLength="13.50" lengthAdjust="spacingAndGlyphs" stroke="#fff" stroke-width="0.2">55</text>
<line x1="273.80" y1="575.40" x2="465.10" y2="575.40" stroke="#111" stroke-width="0.9"/>
<polygon points="273.80,575.40 282.80,573.40 282.80,577.40" fill="#111"/>
<polygon points="295.70,575.40 286.70,573.40 286.70,577.40" fill="#111"/>
<polygon points="295.70,575.40 304.70,573.40 304.70,577.40" fill="#111"/>
<polygon points="380.60,575.40 371.60,573.40 371.60,577.40" fill="#111"/>
<polygon points="380.60,575.40 389.60,573.40 389.60,577.40" fill="#111"/>
<polygon points="465.10,575.40 456.10,573.40 456.10,577.40" fill="#111"/>
<line x1="380.60" y1="568.00" x2="380.60" y2="582.00" stroke="#111" stroke-width="0.9"/>
<text x="278.50" y="573.50" font-family='"Liberation Sans", sans-serif' font-size="13.61" fill="#111" font-weight="normal" text-anchor="start" textLength="12.00" lengthAdjust="spacingAndGlyphs" stroke="#fff" stroke-width="0.2">11</text>
<text x="323.30" y="573.50" font-family='"Liberation Sans", sans-serif' font-size="13.61" fill="#111" font-weight="normal" text-anchor="start" textLength="27.20" lengthAdjust="spacingAndGlyphs" stroke="#fff" stroke-width="0.2">42,5</text>
<text x="407.90" y="573.50" font-family='"Liberation Sans", sans-serif' font-size="13.61" fill="#111" font-weight="normal" text-anchor="start" textLength="27.70" lengthAdjust="spacingAndGlyphs" stroke="#fff" stroke-width="0.2">42,5</text>
<line x1="273.80" y1="595.80" x2="523.40" y2="595.80" stroke="#111" stroke-width="0.9"/>
<polygon points="273.80,595.80 282.80,593.80 282.80,597.80" fill="#111"/>
<polygon points="487.50,595.80 478.50,593.80 478.50,597.80" fill="#111"/>
<polygon points="487.50,595.80 496.50,593.80 496.50,597.80" fill="#111"/>
<polygon points="523.40,595.80 514.40,593.80 514.40,597.80" fill="#111"/>
<text x="370.00" y="593.00" font-family='"Liberation Sans", sans-serif' font-size="13.61" fill="#111" font-weight="normal" text-anchor="start" textLength="19.50" lengthAdjust="spacingAndGlyphs" stroke="#fff" stroke-width="0.2">107</text>
<text x="490.80" y="593.00" font-family='"Liberation Sans", sans-serif' font-size="13.61" fill="#111" font-weight="normal" text-anchor="start" textLength="26.20" lengthAdjust="spacingAndGlyphs" stroke="#fff" stroke-width="0.2">17,8</text>
<line x1="273.80" y1="623.00" x2="523.40" y2="623.00" stroke="#8a8a8a" stroke-width="0.9"/>
<polygon points="273.80,623.00 282.80,621.00 282.80,625.00" fill="#111"/>
<polygon points="523.40,623.00 514.40,621.00 514.40,625.00" fill="#111"/>
<text x="380.70" y="619.70" font-family='"Liberation Sans", sans-serif' font-size="13.61" fill="#111" font-weight="normal" text-anchor="start" textLength="33.00" lengthAdjust="spacingAndGlyphs" stroke="#fff" stroke-width="0.2">124,8</text>
<rect x="572.20" y="375.40" width="8.60" height="6.30" fill="none" stroke="#111" stroke-width="1.0"/>
<rect x="572.20" y="448.40" width="8.60" height="6.70" fill="none" stroke="#111" stroke-width="1.0"/>
<line x1="572.20" y1="384.00" x2="572.20" y2="446.00" stroke="#111" stroke-width="0.9" stroke-dasharray="10,3,1.5,3"/>
<line x1="580.80" y1="384.00" x2="580.80" y2="395.60" stroke="#111" stroke-width="0.9"/>
<line x1="580.80" y1="434.80" x2="580.80" y2="446.00" stroke="#111" stroke-width="0.9"/>
<line x1="580.80" y1="395.60" x2="580.80" y2="434.80" stroke="#111" stroke-width="0.9" stroke-dasharray="10,3,1.5,3"/>
<line x1="568.00" y1="415.40" x2="700.00" y2="415.40" stroke="#111" stroke-width="0.9" stroke-dasharray="10,4"/>
<line x1="576.50" y1="408.00" x2="576.50" y2="423.00" stroke="#111" stroke-width="0.9"/>
<line x1="580.80" y1="395.60" x2="617.10" y2="395.60" stroke="#111" stroke-width="0.9" stroke-dasharray="10,3,1.5,3"/>
<line x1="580.80" y1="434.80" x2="617.10" y2="434.80" stroke="#111" stroke-width="0.9" stroke-dasharray="10,3,1.5,3"/>
<line x1="617.10" y1="395.60" x2="617.10" y2="434.80" stroke="#111" stroke-width="1.0"/>
<line x1="617.10" y1="395.60" x2="647.00" y2="395.60" stroke="#111" stroke-width="1.0" stroke-dasharray="10,3,1.5,3"/>
<line x1="617.10" y1="434.80" x2="647.00" y2="434.80" stroke="#111" stroke-width="1.0"/>
<line x1="627.30" y1="395.60" x2="627.30" y2="406.20" stroke="#111" stroke-width="1.0"/>
<line x1="627.30" y1="406.20" x2="667.40" y2="406.20" stroke="#111" stroke-width="1.0"/>
<line x1="627.30" y1="406.20" x2="627.30" y2="434.80" stroke="#111" stroke-width="0.9" stroke-dasharray="10,3,1.5,3"/>
<polyline points="647.00,395.60 656.50,395.60 667.40,404.90" fill="none" stroke="#111" stroke-width="1.0"/>
<polyline points="647.00,395.60 651.70,400.80 667.40,400.80" fill="none" stroke="#111" stroke-width="0.9"/>
<line x1="651.70" y1="400.80" x2="651.70" y2="430.40" stroke="#111" stroke-width="1.0"/>
<line x1="647.00" y1="434.80" x2="651.70" y2="430.40" stroke="#111" stroke-width="1.0"/>
<line x1="647.00" y1="400.00" x2="647.00" y2="434.80" stroke="#111" stroke-width="0.9" stroke-dasharray="10,3,1.5,3"/>
<line x1="651.70" y1="430.40" x2="667.40" y2="430.40" stroke="#111" stroke-width="1.0"/>
<line x1="651.70" y1="434.80" x2="667.40" y2="434.80" stroke="#111" stroke-width="0.9"/>
<line x1="667.40" y1="406.20" x2="667.40" y2="450.40" stroke="#111" stroke-width="0.9" stroke-dasharray="10,3,1.5,3"/>
<line x1="627.30" y1="434.80" x2="627.30" y2="450.40" stroke="#111" stroke-width="1.0"/>
<line x1="627.30" y1="450.40" x2="667.40" y2="450.40" stroke="#111" stroke-width="0.9" stroke-dasharray="10,3,1.5,3"/>
<rect x="629.30" y="450.40" width="36.70" height="17.60" fill="none" stroke="#111" stroke-width="0.9"/>
<line x1="629.30" y1="453.80" x2="666.00" y2="453.80" stroke="#111" stroke-width="0.9" stroke-dasharray="5,2"/>
<line x1="629.30" y1="457.90" x2="666.00" y2="457.90" stroke="#111" stroke-width="1.0"/>
<line x1="629.30" y1="463.00" x2="666.00" y2="463.00" stroke="#111" stroke-width="0.9" stroke-dasharray="5,2"/>
<rect x="632.30" y="468.00" width="30.10" height="15.00" fill="none" stroke="#111" stroke-width="0.9" stroke-dasharray="10,3,1.5,3"/>
<line x1="635.30" y1="483.00" x2="635.30" y2="543.40" stroke="#111" stroke-width="0.9" stroke-dasharray="10,3,1.5,3"/>
<line x1="659.40" y1="483.00" x2="659.40" y2="543.40" stroke="#111" stroke-width="0.9" stroke-dasharray="10,3,1.5,3"/>
<line x1="635.30" y1="543.40" x2="647.30" y2="543.40" stroke="#111" stroke-width="0.9" stroke-dasharray="2,2"/>
<line x1="647.30" y1="543.40" x2="659.40" y2="543.40" stroke="#111" stroke-width="0.9"/>
<line x1="647.30" y1="440.00" x2="647.30" y2="554.00" stroke="#111" stroke-width="0.9" stroke-dasharray="10,3,1.5,3"/>
<line x1="667.40" y1="400.10" x2="685.70" y2="400.10" stroke="#111" stroke-width="0.9" stroke-dasharray="3,2"/>
<line x1="667.40" y1="430.40" x2="685.70" y2="430.40" stroke="#111" stroke-width="0.9" stroke-dasharray="10,3,1.5,3"/>
<line x1="685.70" y1="400.10" x2="685.70" y2="415.40" stroke="#111" stroke-width="0.9" stroke-dasharray="2,2"/>
<line x1="691.60" y1="403.20" x2="691.60" y2="415.40" stroke="#111" stroke-width="0.9" stroke-dasharray="2,2"/>
<rect x="685.70" y="415.40" width="5.90" height="15.00" fill="none" stroke="#111" stroke-width="1.0"/>
<polyline points="685.70,400.10 691.60,403.20" fill="none" stroke="#111" stroke-width="0.9"/>
<path d="M690.5,402.79999999999995 A135.5,135.5 0 0 1 826.0,538.3" fill="none" stroke="#111" stroke-width="0.9" stroke-dasharray="10,3,1.5,3"/>
<path d="M690.5,414.79999999999995 A123.5,123.5 0 0 1 814.0,538.3" fill="none" stroke="#111" stroke-width="0.9" stroke-dasharray="11,5"/>
<path d="M690.5,426.79999999999995 A111.5,111.5 0 0 1 802.0,538.3" fill="none" stroke="#111" stroke-width="0.9" stroke-dasharray="11,5"/>
<line x1="802.00" y1="538.30" x2="802.00" y2="627.00" stroke="#111" stroke-width="0.9" stroke-dasharray="10,3,1.5,3"/>
<line x1="814.00" y1="538.30" x2="814.00" y2="820.00" stroke="#111" stroke-width="0.9" stroke-dasharray="9,3"/>
<line x1="826.00" y1="538.30" x2="826.00" y2="627.00" stroke="#111" stroke-width="0.9" stroke-dasharray="10,3,1.5,3"/>
<line x1="800.80" y1="537.30" x2="813.40" y2="537.30" stroke="#111" stroke-width="0.9" stroke-dasharray="2,2"/>
<line x1="813.40" y1="537.30" x2="825.90" y2="537.30" stroke="#111" stroke-width="0.9"/>
<polyline points="800.80,627.00 798.50,632.00" fill="none" stroke="#111" stroke-width="0.9"/>
<polyline points="825.90,627.00 828.40,632.00" fill="none" stroke="#111" stroke-width="0.9"/>
<line x1="800.80" y1="627.00" x2="813.40" y2="627.00" stroke="#111" stroke-width="0.9"/>
<line x1="813.40" y1="627.00" x2="825.90" y2="627.00" stroke="#111" stroke-width="0.9" stroke-dasharray="2,2"/>
<line x1="798.50" y1="632.00" x2="798.50" y2="707.60" stroke="#111" stroke-width="0.9" stroke-dasharray="10,3,1.5,3"/>
<line x1="828.40" y1="632.00" x2="828.40" y2="707.60" stroke="#111" stroke-width="0.9" stroke-dasharray="10,3,1.5,3"/>
<line x1="798.50" y1="632.00" x2="828.40" y2="632.00" stroke="#111" stroke-width="0.8"/>
<path d="M808,640 L808,635 A5.4,5.4 0 0 1 818.8,635 L818.8,640 Z" fill="#fff" stroke="#111" stroke-width="0.9"/>
<line x1="798.50" y1="670.30" x2="813.40" y2="670.30" stroke="#666" stroke-width="1.2"/>
<line x1="813.40" y1="670.30" x2="828.40" y2="670.30" stroke="#111" stroke-width="0.9" stroke-dasharray="2,2"/>
<line x1="798.50" y1="707.40" x2="828.40" y2="707.40" stroke="#777" stroke-width="1.2"/>
<polyline points="798.50,707.40 805.00,712.50 805.00,719.50" fill="none" stroke="#111" stroke-width="0.9"/>
<polyline points="828.40,707.40 820.70,712.50 820.70,719.50" fill="none" stroke="#111" stroke-width="0.9"/>
<line x1="805.00" y1="712.50" x2="820.70" y2="712.50" stroke="#666" stroke-width="0.9"/>
<polyline points="798.50,720.50 803.00,717.40 823.50,717.40 828.40,720.50" fill="none" stroke="#555" stroke-width="1.0"/>
<rect x="806.20" y="719.80" width="14.80" height="6.20" fill="none" stroke="#111" stroke-width="1.0"/>
<line x1="798.50" y1="720.50" x2="798.50" y2="737.20" stroke="#111" stroke-width="1.0"/>
<line x1="828.40" y1="720.50" x2="828.40" y2="737.20" stroke="#111" stroke-width="1.0"/>
<line x1="798.50" y1="737.20" x2="828.40" y2="737.20" stroke="#111" stroke-width="0.9" stroke-dasharray="3,1.5"/>
<rect x="799.50" y="742.00" width="6.50" height="5.00" fill="none" stroke="#111" stroke-width="1.0"/>
<rect x="808.00" y="742.00" width="6.00" height="5.00" fill="none" stroke="#111" stroke-width="1.0"/>
<rect x="820.00" y="742.00" width="7.00" height="5.00" fill="none" stroke="#111" stroke-width="1.0"/>
<rect x="794.30" y="747.00" width="38.50" height="9.70" fill="#111"/>
<rect x="832.80" y="749.00" width="2.20" height="6.00" fill="#333"/>
<rect x="799.00" y="759.00" width="14.00" height="1.40" fill="#222"/>
<line x1="814.00" y1="760.00" x2="828.00" y2="760.00" stroke="#111" stroke-width="0.9" stroke-dasharray="2,1.5"/>
<rect x="799.00" y="763.00" width="14.00" height="1.40" fill="#222"/>
<line x1="814.00" y1="764.00" x2="828.00" y2="764.00" stroke="#111" stroke-width="0.9" stroke-dasharray="2,1.5"/>
<rect x="799.00" y="767.00" width="14.00" height="1.40" fill="#222"/>
<line x1="814.00" y1="768.00" x2="828.00" y2="768.00" stroke="#111" stroke-width="0.9" stroke-dasharray="2,1.5"/>
<rect x="799.00" y="771.00" width="14.00" height="1.40" fill="#222"/>
<line x1="814.00" y1="772.00" x2="828.00" y2="772.00" stroke="#111" stroke-width="0.9" stroke-dasharray="2,1.5"/>
<rect x="799.00" y="775.00" width="14.00" height="1.40" fill="#222"/>
<line x1="814.00" y1="776.00" x2="828.00" y2="776.00" stroke="#111" stroke-width="0.9" stroke-dasharray="2,1.5"/>
<rect x="799.00" y="779.00" width="14.00" height="1.40" fill="#222"/>
<line x1="814.00" y1="780.00" x2="828.00" y2="780.00" stroke="#111" stroke-width="0.9" stroke-dasharray="2,1.5"/>
<rect x="799.00" y="783.00" width="14.00" height="1.40" fill="#222"/>
<line x1="814.00" y1="784.00" x2="828.00" y2="784.00" stroke="#111" stroke-width="0.9" stroke-dasharray="2,1.5"/>
<line x1="798.50" y1="756.70" x2="798.50" y2="787.50" stroke="#111" stroke-width="0.9"/>
<line x1="828.40" y1="756.70" x2="828.40" y2="787.50" stroke="#111" stroke-width="0.9"/>
<rect x="798.50" y="782.00" width="29.90" height="5.50" fill="none" stroke="#111" stroke-width="0.9"/>
<rect x="801.00" y="787.50" width="25.00" height="15.50" fill="none" stroke="#111" stroke-width="0.9"/>
<line x1="805.00" y1="787.50" x2="805.00" y2="803.00" stroke="#111" stroke-width="1.2"/>
<line x1="811.00" y1="787.50" x2="811.00" y2="803.00" stroke="#111" stroke-width="1.2"/>
<line x1="816.00" y1="787.50" x2="816.00" y2="803.00" stroke="#111" stroke-width="1.2"/>
<line x1="822.00" y1="787.50" x2="822.00" y2="803.00" stroke="#111" stroke-width="1.2"/>
<rect x="800.00" y="800.00" width="26.00" height="3.00" fill="#555"/>
<rect x="801.00" y="803.00" width="25.00" height="10.00" fill="none" stroke="#111" stroke-width="0.9" stroke-dasharray="4,1.5"/>
<line x1="572.20" y1="332.60" x2="572.20" y2="375.40" stroke="#111" stroke-width="0.9"/>
<line x1="572.20" y1="339.20" x2="826.00" y2="339.20" stroke="#111" stroke-width="0.9"/>
<polygon points="572.20,339.20 581.20,337.20 581.20,341.20" fill="#111"/>
<polygon points="826.00,339.20 817.00,337.20 817.00,341.20" fill="#111"/>
<text x="670.00" y="337.00" font-family='"Liberation Sans", sans-serif' font-size="13.61" fill="#111" font-weight="normal" text-anchor="start" textLength="55.00" lengthAdjust="spacingAndGlyphs" stroke="#fff" stroke-width="0.2">min. 127</text>
<line x1="826.00" y1="332.60" x2="826.00" y2="536.00" stroke="#111" stroke-width="0.9"/>
<line x1="572.20" y1="361.80" x2="667.40" y2="361.80" stroke="#111" stroke-width="0.9"/>
<polygon points="572.20,361.80 581.20,359.80 581.20,363.80" fill="#111"/>
<polygon points="667.40,361.80 658.40,359.80 658.40,363.80" fill="#111"/>
<line x1="667.40" y1="355.00" x2="667.40" y2="406.20" stroke="#111" stroke-width="0.9"/>
<text x="611.00" y="358.80" font-family='"Liberation Sans", sans-serif' font-size="13.61" fill="#111" font-weight="normal" text-anchor="start" textLength="17.00" lengthAdjust="spacingAndGlyphs" stroke="#fff" stroke-width="0.2">48</text>
<line x1="705.40" y1="518.90" x2="760.70" y2="451.30" stroke="#111" stroke-width="0.9"/>
<polygon points="760.70,451.30 756.07,460.43 752.67,457.65" fill="#111"/>
<line x1="757.50" y1="448.00" x2="763.50" y2="453.50" stroke="#111" stroke-width="0.9"/>
<text transform="translate(703.60,517.40) rotate(-50.7)" x="0" y="0" font-family='"Liberation Sans", sans-serif' font-size="13.61" fill="#111" font-weight="normal" text-anchor="start" textLength="54.00" lengthAdjust="spacingAndGlyphs" stroke="#fff" stroke-width="0.2">min. R55</text>
</svg></body></html>
